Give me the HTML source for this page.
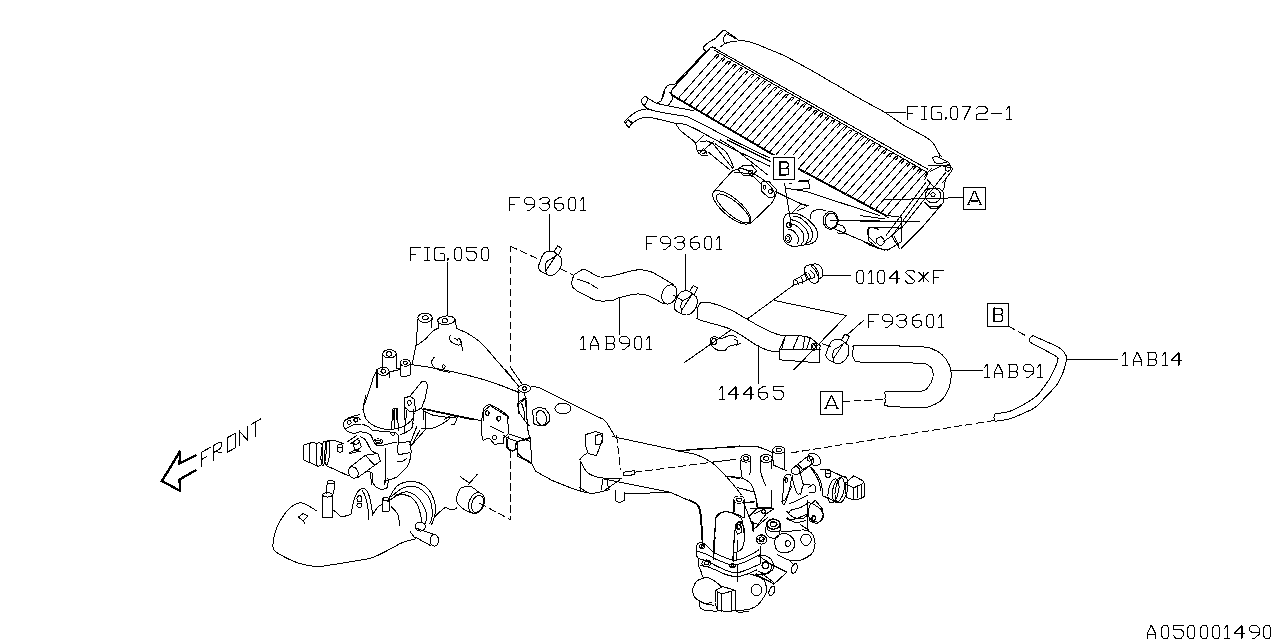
<!DOCTYPE html>
<html><head><meta charset="utf-8"><style>
html,body{margin:0;padding:0;background:#fff;}
svg{display:block;}
path,polyline,line,ellipse,circle,rect,polygon{fill:none;stroke:#000;stroke-width:1;vector-effect:non-scaling-stroke;stroke-linejoin:round;stroke-linecap:round;shape-rendering:crispEdges;}
.t path{stroke-width:1.1;}
.b{stroke-width:1.25;}
.b2{stroke-width:2;}
.arr{stroke-width:2.4;stroke-linejoin:miter;stroke-linecap:butt;}
.d{stroke-dasharray:7 4;}
.f{fill:#000;}
.bold{stroke-width:2;}
.thin{stroke-width:0.8;}
.fin{stroke-width:1;}
.w{fill:#fff;}
</style></head><body>
<svg width="1280" height="640" viewBox="0 0 1280 640">
<rect x="0" y="0" width="1280" height="640" style="fill:#fff;stroke:none"/>
<path d="M712.5,47.0 L927.6,169.1"/>
<path d="M715.0,50.5 L927.6,172.6"/>
<path d="M670.2,93.5 L772,153.5 L801,169.5 L887.7,216.0"/>
<path d="M671.0,95.1 L772.8,155.1 L801.8,171.1 L888.5,217.6"/>
<path d="M715.5,48.0 Q710.5,46.0 708.5,50.0 L672.2,89.5 Q670.2,93.5 673.2,95.0"/>
<path class="fin" d="M679.1,97.3 L697.6,76.4 L716.0,55.5 Q717.2,53.9 719.0,55.3 L716.3,58.3"/>
<path class="fin" d="M684.8,100.7 L703.4,79.7 L721.8,58.8 Q723.0,57.2 724.8,58.6 L722.1,61.6"/>
<path class="fin" d="M690.5,104.1 L708.8,83.0 L727.5,62.0 Q728.7,60.4 730.5,61.8 L727.9,64.8"/>
<path class="fin" d="M696.2,107.4 L714.8,86.4 L733.3,65.3 Q734.5,63.7 736.3,65.1 L733.7,68.1"/>
<path class="fin" d="M701.9,110.8 L720.8,89.7 L739.1,68.6 Q740.3,67.0 742.1,68.4 L739.5,71.4"/>
<path class="fin" d="M707.6,114.1 L726.6,93.0 L744.9,71.9 Q746.1,70.3 747.9,71.7 L745.2,74.7"/>
<path class="fin" d="M713.4,117.5 L731.7,96.3 L750.7,75.2 Q751.9,73.6 753.7,75.0 L751.0,78.0"/>
<path class="fin" d="M719.1,120.8 L737.5,99.6 L756.4,78.4 Q757.6,76.8 759.4,78.2 L756.8,81.2"/>
<path class="fin" d="M724.8,124.2 L743.1,103.0 L762.2,81.7 Q763.4,80.1 765.2,81.5 L762.6,84.5"/>
<path class="fin" d="M730.5,127.6 L749.2,106.3 L768.0,85.0 Q769.2,83.4 771.0,84.8 L768.4,87.8"/>
<path class="fin" d="M736.2,131.0 L754.6,109.6 L773.8,88.3 Q775.0,86.7 776.8,88.1 L774.1,91.1"/>
<path class="fin" d="M741.9,134.3 L760.7,113.0 L779.6,91.6 Q780.8,90.0 782.6,91.4 L779.9,94.4"/>
<path class="fin" d="M747.6,137.7 L766.6,116.3 L785.4,94.9 Q786.6,93.3 788.4,94.7 L785.7,97.7"/>
<path class="fin" d="M753.3,141.1 L772.0,119.6 L791.1,98.1 Q792.3,96.5 794.1,97.9 L791.5,100.9"/>
<path class="fin" d="M759.0,144.4 L778.1,122.9 L796.9,101.4 Q798.1,99.8 799.9,101.2 L797.3,104.2"/>
<path class="fin" d="M764.7,147.8 L783.8,126.2 L802.7,104.7 Q803.9,103.1 805.7,104.5 L803.1,107.5"/>
<path class="fin" d="M770.4,151.1 L789.1,129.6 L808.5,108.0 Q809.7,106.4 811.5,107.8 L808.8,110.8"/>
<path class="fin" d="M776.2,154.4 L795.3,132.8 L814.3,111.3 Q815.5,109.7 817.3,111.1 L814.6,114.1"/>
<path class="fin" d="M782.1,157.6 L800.9,136.1 L820.0,114.5 Q821.2,113.0 823.0,114.3 L820.4,117.4"/>
<path class="fin" d="M787.9,160.8 L806.8,139.3 L825.8,117.8 Q827.0,116.2 828.8,117.6 L826.2,120.6"/>
<path class="fin" d="M793.8,164.0 L812.5,142.6 L831.6,121.1 Q832.8,119.5 834.6,120.9 L832.0,123.9"/>
<path class="fin" d="M799.6,167.3 L818.6,145.9 L837.4,124.4 Q838.6,122.8 840.4,124.2 L837.8,127.2"/>
<path class="fin" d="M805.5,170.4 L824.3,149.1 L843.2,127.7 Q844.4,126.1 846.2,127.5 L843.5,130.5"/>
<path class="fin" d="M811.4,173.6 L829.9,152.3 L849.0,131.0 Q850.2,129.4 852.0,130.8 L849.3,133.8"/>
<path class="fin" d="M817.2,176.8 L836.0,155.5 L854.7,134.2 Q855.9,132.6 857.7,134.0 L855.1,137.0"/>
<path class="fin" d="M823.1,179.9 L842.1,158.7 L860.5,137.5 Q861.7,135.9 863.5,137.3 L860.9,140.3"/>
<path class="fin" d="M829.1,183.1 L847.5,161.9 L866.3,140.8 Q867.5,139.2 869.3,140.6 L866.7,143.6"/>
<path class="fin" d="M834.9,186.3 L853.3,165.2 L872.1,144.1 Q873.3,142.5 875.1,143.9 L872.4,146.9"/>
<path class="fin" d="M840.8,189.4 L859.3,168.4 L877.9,147.4 Q879.1,145.8 880.9,147.2 L878.2,150.2"/>
<path class="fin" d="M846.7,192.6 L865.5,171.6 L883.7,150.7 Q884.9,149.1 886.7,150.5 L884.0,153.5"/>
<path class="fin" d="M852.6,195.7 L871.4,174.8 L889.4,153.9 Q890.6,152.3 892.4,153.7 L889.8,156.7"/>
<path class="fin" d="M858.5,198.9 L877.0,178.0 L895.2,157.2 Q896.4,155.6 898.2,157.0 L895.6,160.0"/>
<path class="fin" d="M864.3,202.1 L883.0,181.3 L901.0,160.5 Q902.2,158.9 904.0,160.3 L901.4,163.3"/>
<path class="fin" d="M870.3,205.2 L888.8,184.5 L906.8,163.8 Q908.0,162.2 909.8,163.6 L907.1,166.6"/>
<path class="fin" d="M876.2,208.3 L894.3,187.7 L912.6,167.1 Q913.8,165.5 915.6,166.9 L912.9,169.9"/>
<path class="fin" d="M882.0,211.5 L899.9,190.9 L918.3,170.3 Q919.5,168.7 921.3,170.1 L918.7,173.1"/>
<path class="fin" d="M888.1,214.5 L906.2,194.1 L924.1,173.6 Q925.3,172.0 927.1,173.4 L924.5,176.4"/>
<!-- r_act.txt -->
<path d="M790.00,213.12 C789.27,213.40 786.71,213.60 785.62,214.75 C784.54,215.90 783.77,217.67 783.50,220.00 C783.23,222.33 784.04,226.25 784.00,228.75 C783.96,231.25 783.17,232.92 783.25,235.00 C783.33,237.08 783.58,239.58 784.50,241.25 C785.42,242.92 787.00,244.12 788.75,245.00 C790.50,245.88 792.81,246.46 795.00,246.50 C797.19,246.54 800.73,245.46 801.88,245.25"/>
<path d="M790.00,213.12 C791.25,213.23 795.00,213.02 797.50,213.75 C800.00,214.48 802.71,216.04 805.00,217.50 C807.29,218.96 809.38,220.62 811.25,222.50 C813.12,224.38 815.17,226.67 816.25,228.75 C817.33,230.83 817.92,232.92 817.75,235.00 C817.58,237.08 816.54,239.75 815.25,241.25 C813.96,242.75 812.23,243.33 810.00,244.00 C807.77,244.67 803.23,245.04 801.88,245.25"/>
<path d="M792.75,216.00 C793.96,216.29 797.75,216.62 800.00,217.75 C802.25,218.88 804.42,220.92 806.25,222.75 C808.08,224.58 809.96,226.71 811.00,228.75 C812.04,230.79 812.62,232.92 812.50,235.00 C812.38,237.08 811.67,239.67 810.25,241.25 C808.83,242.83 805.04,243.96 804.00,244.50"/>
<path d="M791.50,219.75 C792.50,220.04 795.67,220.58 797.50,221.50 C799.33,222.42 800.88,223.62 802.50,225.25 C804.12,226.88 806.25,229.21 807.25,231.25 C808.25,233.29 808.67,235.58 808.50,237.50 C808.33,239.42 806.62,241.88 806.25,242.75"/>
<path d="M790.25,223.50 C791.08,223.79 793.62,224.33 795.25,225.25 C796.88,226.17 798.62,227.54 800.00,229.00 C801.38,230.46 802.88,232.17 803.50,234.00 C804.12,235.83 804.08,238.33 803.75,240.00 C803.42,241.67 801.88,243.33 801.50,244.00"/>
<path d="M787.75,229.00 C788.58,229.25 791.33,229.67 792.75,230.50 C794.17,231.33 795.29,232.58 796.25,234.00 C797.21,235.42 798.33,237.33 798.50,239.00 C798.67,240.67 797.46,243.17 797.25,244.00"/>
<path d="M791.25,238.50 A3.00,3.75 0.0 1,1 785.25,238.50 A3.00,3.75 0.0 1,1 791.25,238.50 Z"/>
<path d="M789.75,238.50 A1.50,1.88 0.0 1,1 786.75,238.50 A1.50,1.88 0.0 1,1 789.75,238.50 Z"/>
<path d="M791.25,225.00 A2.25,3.00 0.0 1,1 786.75,225.00 A2.25,3.00 0.0 1,1 791.25,225.00 Z"/>
<path class="f" d="M790.75,224.50 A0.75,0.75 0.0 1,1 789.25,224.50 A0.75,0.75 0.0 1,1 790.75,224.50 Z"/>
<path d="M792.75,212.50 L801.25,204.00 L809.00,205.75"/>
<path d="M797.50,210.62 L805.00,207.50"/>
<!-- r_bolt.txt -->
<path d="M807.50,265.31 C808.68,264.96 810.94,264.77 812.19,265.08 C813.44,265.39 814.07,266.13 815.00,267.19 C815.94,268.24 817.19,269.92 817.82,271.41 C818.44,272.89 818.68,274.46 818.76,276.10 C818.83,277.74 819.07,280.04 818.29,281.25 C817.51,282.47 815.40,283.36 814.07,283.36 C812.74,283.36 811.72,282.86 810.32,281.25 C808.91,279.65 806.64,275.55 805.63,273.75 C804.61,271.96 804.30,271.57 804.22,270.47 C804.14,269.38 804.61,268.05 805.16,267.19 C805.71,266.33 806.33,265.67 807.50,265.31 Z"/>
<path d="M813.13,264.14 C813.99,263.79 815.79,263.87 816.88,264.14 C817.97,264.42 818.83,264.96 819.69,265.78 C820.55,266.60 821.53,267.89 822.04,269.06 C822.54,270.24 822.66,271.64 822.74,272.82 C822.82,273.99 822.86,275.24 822.51,276.10 C822.15,276.96 821.26,277.58 820.63,277.97 C820.01,278.36 819.22,278.83 818.76,278.44 C818.29,278.05 818.36,276.96 817.82,275.63 C817.27,274.30 816.49,272.03 815.47,270.47 C814.46,268.91 812.11,267.31 811.72,266.25 C811.33,265.20 812.27,264.49 813.13,264.14 Z"/>
<path d="M810.32,270.47 C810.94,271.10 813.36,273.21 814.07,274.22 C814.77,275.24 814.77,275.86 814.54,276.57 C814.30,277.27 813.36,278.05 812.66,278.44 C811.96,278.83 810.71,278.83 810.32,278.91"/>
<path d="M793.44,280.32 L799.06,277.50 L804.69,273.75 L807.03,272.58"/>
<path d="M794.38,285.00 L799.06,283.13 L804.69,281.25 L809.38,278.91"/>
<path d="M795.78,280.32 C796.10,280.55 797.19,280.94 797.66,281.72 C798.13,282.50 798.44,284.46 798.60,285.00"/>
<path d="M800.47,276.57 C800.78,277.03 801.96,278.28 802.35,279.38 C802.74,280.47 802.74,282.50 802.82,283.13"/>
<path d="M804.22,274.22 C804.53,274.69 805.71,276.02 806.10,277.03 C806.49,278.05 806.49,279.77 806.57,280.32"/>
<path d="M807.97,272.82 C808.28,273.28 809.46,274.69 809.85,275.63 C810.24,276.57 810.24,277.97 810.32,278.44"/>
<path d="M793.44,280.32 C793.36,280.63 792.89,281.41 792.97,282.19 C793.05,282.97 793.75,284.54 793.91,285.00"/>
<path d="M822.51,275.39 L850.64,275.39"/>
<!-- r_clamp0.txt -->
<path d="M548.75,251.22 C550.31,251.02 552.19,251.17 553.75,251.85 C555.31,252.53 556.93,254.35 558.12,255.29 C559.32,256.23 560.36,256.28 560.94,257.48 C561.51,258.67 561.61,260.81 561.56,262.48 C561.51,264.14 561.30,265.91 560.62,267.48 C559.95,269.04 558.75,270.60 557.50,271.85 C556.25,273.10 554.69,274.45 553.12,274.98 C551.56,275.50 549.58,275.29 548.12,274.98 C546.67,274.66 545.73,273.83 544.38,273.10 C543.02,272.37 540.99,271.64 540.00,270.60 C539.01,269.56 538.44,268.31 538.44,266.85 C538.44,265.39 539.43,263.52 540.00,261.85 C540.57,260.18 541.15,258.31 541.88,256.85 C542.60,255.39 543.23,254.04 544.38,253.10 C545.52,252.16 547.19,251.43 548.75,251.22 Z"/>
<path d="M556.25,255.29 C555.31,255.96 552.19,258.31 550.62,259.35 C549.06,260.39 547.76,260.39 546.88,261.54 C545.99,262.68 545.47,264.61 545.31,266.23 C545.16,267.84 545.76,269.89 545.94,271.23 C546.11,272.56 546.30,273.73 546.38,274.23"/>
<path d="M545.62,271.23 L556.25,254.97"/>
<path d="M554.06,251.97 L557.50,245.91 L561.75,248.22 L558.62,255.29 Z"/>
<!-- r_clamp1.txt -->
<path d="M684.35,290.93 C685.91,290.72 687.79,290.87 689.35,291.55 C690.91,292.23 692.53,294.05 693.73,294.99 C694.92,295.93 695.96,295.98 696.54,297.18 C697.11,298.37 697.21,300.51 697.16,302.18 C697.11,303.84 696.90,305.61 696.23,307.18 C695.55,308.74 694.35,310.30 693.10,311.55 C691.85,312.80 690.29,314.15 688.73,314.68 C687.16,315.20 685.18,314.99 683.73,314.68 C682.27,314.36 681.33,313.53 679.98,312.80 C678.62,312.07 676.59,311.34 675.60,310.30 C674.61,309.26 674.04,308.01 674.04,306.55 C674.04,305.09 675.03,303.22 675.60,301.55 C676.17,299.88 676.75,298.01 677.48,296.55 C678.20,295.09 678.83,293.74 679.98,292.80 C681.12,291.86 682.79,291.13 684.35,290.93 Z"/>
<path d="M691.85,294.99 C690.91,295.66 687.79,298.01 686.23,299.05 C684.66,300.09 683.36,300.09 682.48,301.24 C681.59,302.38 681.07,304.31 680.91,305.93 C680.76,307.54 681.36,309.59 681.54,310.93 C681.71,312.26 681.90,313.43 681.98,313.93"/>
<path d="M681.23,310.93 L691.85,294.68"/>
<path d="M689.66,291.68 L693.10,285.61 L697.35,287.93 L694.23,294.99 Z"/>
<!-- r_clamp2.txt -->
<path d="M836.15,339.38 C837.71,339.17 839.59,339.32 841.15,340.00 C842.71,340.68 844.33,342.50 845.52,343.44 C846.72,344.38 847.76,344.43 848.34,345.62 C848.91,346.82 849.01,348.96 848.96,350.62 C848.91,352.29 848.70,354.06 848.02,355.62 C847.35,357.19 846.15,358.75 844.90,360.00 C843.65,361.25 842.09,362.60 840.52,363.12 C838.96,363.65 836.98,363.44 835.52,363.12 C834.07,362.81 833.13,361.98 831.77,361.25 C830.42,360.52 828.39,359.79 827.40,358.75 C826.41,357.71 825.84,356.46 825.84,355.00 C825.84,353.54 826.83,351.67 827.40,350.00 C827.97,348.33 828.55,346.46 829.27,345.00 C830.00,343.54 830.63,342.19 831.77,341.25 C832.92,340.31 834.59,339.58 836.15,339.38 Z"/>
<path d="M843.65,343.44 C842.71,344.11 839.59,346.46 838.02,347.50 C836.46,348.54 835.16,348.54 834.27,349.69 C833.39,350.83 832.87,352.76 832.71,354.38 C832.56,355.99 833.16,358.04 833.34,359.38 C833.51,360.71 833.70,361.88 833.77,362.38"/>
<path d="M833.02,359.38 L843.65,343.12"/>
<path d="M841.46,340.12 L844.90,334.06 L849.15,336.38 L846.02,343.44 Z"/>
<!-- r_fix1.txt -->
<path d="M757.34,507.97 L773.75,508.75 L765.94,514.22 L758.12,524.38 L751.09,522.03 L749.53,515.78 Z"/>
<path d="M765.47,511.25 A2.03,1.88 0.0 1,1 761.41,511.25 A2.03,1.88 0.0 1,1 765.47,511.25 Z"/>
<path d="M754.22,491.56 L758.12,507.34 L771.02,507.97 L771.02,490.00"/>
<path d="M744.45,502.89 L754.22,502.11"/>
<path d="M744.84,505.62 L751.09,522.03"/>
<!-- r_fix2.txt -->
<path d="M625.62,493.44 L669.38,492.66"/>
<!-- r_fix3.txt -->
<path d="M372.39,473.15 C372.49,474.74 371.81,480.08 372.99,482.69 C374.18,485.30 377.12,488.00 379.49,488.78 C381.86,489.56 385.79,489.22 387.21,487.36 C388.63,485.50 387.88,479.24 388.02,477.61"/>
<path d="M372.39,473.15 L367.72,471.12"/>
<!-- r_h1.txt -->
<path d="M549.85,230.00 L549.85,251.49"/>
<path class="d" d="M510.66,340.00 L510.66,246.33"/>
<path class="d" d="M510.66,246.33 L539.88,259.91"/>
<path class="d" d="M560.50,268.84 L573.91,275.55"/>
<path d="M573.91,275.03 C575.05,274.26 578.78,271.25 580.78,270.39 C582.79,269.53 582.93,268.82 585.94,269.88 C588.95,270.94 594.53,275.72 598.83,276.75 C603.13,277.78 608.14,276.55 611.72,276.06 C615.30,275.58 616.02,274.86 620.32,273.83 C624.61,272.80 632.63,270.31 637.50,269.88 C642.37,269.45 646.10,270.31 649.54,271.25 C652.97,272.20 654.12,273.31 658.13,275.55 C662.14,277.78 671.02,283.14 673.60,284.66"/>
<path d="M572.19,286.72 C573.05,287.44 575.05,289.59 577.35,291.02 C579.64,292.45 582.79,293.74 585.94,295.31 C589.09,296.89 591.96,299.61 596.25,300.47 C600.55,301.33 607.71,300.99 611.72,300.47 C615.73,299.96 616.02,298.47 620.32,297.38 C624.61,296.29 632.63,294.14 637.50,293.94 C642.37,293.74 645.24,294.51 649.54,296.17 C653.83,297.84 660.99,302.62 663.29,303.91"/>
<path d="M573.91,275.03 C573.56,276.12 572.13,279.62 571.85,281.56 C571.56,283.51 572.13,285.86 572.19,286.72"/>
<path d="M577.35,278.99 L589.38,283.28"/>
<path d="M591.10,284.66 L597.97,288.44"/>
<path d="M676.00,297.16 A7.22,9.97 22.0 1,1 662.61,291.75 A7.22,9.97 22.0 1,1 676.00,297.16 Z"/>
<path d="M685.63,254.06 L685.63,291.02"/>
<path d="M619.46,297.89 L619.46,334.50"/>
<path d="M673.60,295.31 L682.19,300.47"/>
<!-- r_h2.txt -->
<path d="M793.71,285.08 L747.01,319.19"/>
<path d="M731.57,329.54 L684.06,362.84"/>
<path d="M774.42,300.51 L846.50,315.53 L793.71,369.95"/>
<path d="M700.30,302.94 C702.00,302.94 705.38,301.76 710.46,302.94 C715.53,304.13 724.67,307.34 730.76,310.05 C736.85,312.76 741.25,315.97 747.01,319.19 C752.76,322.40 759.53,326.63 765.28,329.34 C771.03,332.05 776.11,334.42 781.52,335.43 C786.94,336.45 795.06,335.43 797.77,335.43"/>
<path d="M697.26,317.16 C697.77,317.66 694.72,318.17 700.30,320.20 C705.89,322.23 721.29,325.11 730.76,329.34 C740.24,333.57 750.73,342.03 757.16,345.58 C763.59,349.14 765.62,349.64 769.34,350.66 C773.06,351.68 777.80,351.51 779.49,351.68"/>
<path d="M700.30,302.94 C699.80,303.96 697.77,306.67 697.26,309.04 C696.75,311.40 697.26,315.80 697.26,317.16"/>
<path d="M779.49,349.64 L785.58,335.43 L798.78,335.43 L809.95,337.46 L820.10,345.58 L819.09,362.84 L779.49,359.80 Z"/>
<path d="M779.49,349.64 L820.10,349.64"/>
<path d="M785.58,335.43 L781.52,349.64"/>
<path d="M798.78,335.43 L792.69,349.64"/>
<path d="M804.87,337.87 L802.84,348.63"/>
<path d="M809.95,338.68 L806.90,348.63"/>
<path d="M816.85,346.60 A2.84,3.65 0.0 1,1 811.17,346.60 A2.84,3.65 0.0 1,1 816.85,346.60 Z"/>
<path d="M815.43,346.60 A1.42,1.83 0.0 1,1 812.59,346.60 A1.42,1.83 0.0 1,1 815.43,346.60 Z"/>
<path d="M710.46,338.48 C711.13,338.14 712.83,336.45 714.52,336.45 C716.21,336.45 717.90,338.65 720.61,338.48 C723.32,338.31 728.05,335.60 730.76,335.43 C733.47,335.26 735.84,337.12 736.85,337.46"/>
<path d="M710.46,338.48 C710.46,339.32 709.44,341.69 710.46,343.55 C711.47,345.41 714.18,348.46 716.55,349.64 C718.92,350.83 722.64,351.17 724.67,350.66 C726.70,350.15 726.02,347.78 728.73,346.60 C731.44,345.41 738.88,344.06 740.91,343.55"/>
<path d="M716.55,341.52 A2.44,3.05 0.0 1,1 711.68,341.52 A2.44,3.05 0.0 1,1 716.55,341.52 Z"/>
<path d="M734.82,339.49 C735.33,339.83 737.53,340.51 737.87,341.52 C738.21,342.54 737.02,344.91 736.85,345.58"/>
<path d="M758.17,345.58 L758.17,383.15"/>
<path d="M846.50,335.43 L863.76,320.20"/>
<path d="M822.13,343.55 L830.25,346.60"/>
<!-- r_h3.txt -->
<path d="M855.84,345.69 C862.10,345.38 880.37,345.72 891.37,345.89 C902.37,346.06 915.06,346.23 921.83,346.70 C928.60,347.17 928.60,347.38 931.98,348.73 C935.36,350.08 939.26,352.12 942.13,354.82 C945.01,357.53 947.72,361.59 949.24,364.97 C950.76,368.36 951.27,371.40 951.27,375.13 C951.27,378.85 950.76,383.25 949.24,387.31 C947.72,391.37 945.01,396.45 942.13,399.49 C939.26,402.54 935.36,404.23 931.98,405.58 C928.60,406.94 929.27,407.55 921.83,407.61 C914.38,407.68 893.40,407.01 887.31,405.99 C881.22,404.97 885.62,403.28 885.28,401.52 C884.94,399.76 884.87,397.12 885.28,395.43 C885.69,393.74 881.96,392.05 887.72,391.37 C893.47,390.69 913.10,392.05 919.80,391.37 C926.50,390.69 925.72,389.68 927.92,387.31 C930.12,384.94 932.32,380.20 932.99,377.16 C933.67,374.11 932.83,371.07 931.98,369.04 C931.13,367.01 929.61,365.92 927.92,364.97 C926.23,364.03 927.92,363.76 921.83,363.35 C915.74,362.94 901.86,362.77 891.37,362.54 C880.88,362.30 865.14,362.54 858.88,361.93 C852.62,361.32 854.89,360.41 853.81,358.88 C852.72,357.36 852.39,354.65 852.39,352.79 C852.39,350.93 853.23,348.90 853.81,347.72 C854.38,346.53 849.58,345.99 855.84,345.69 Z"/>
<path d="M951.27,370.05 L982.74,370.05"/>
<path class="d" d="M842.64,401.52 L884.26,399.49"/>
<path class="d" d="M1008.73,326.40 L1025.38,335.53"/>
<!-- r_h4.txt -->
<path d="M1033.10,335.69 C1037.50,337.72 1054.08,344.65 1059.49,347.87 C1064.91,351.08 1064.40,353.11 1065.58,354.97 C1066.77,356.84 1066.94,356.33 1066.60,359.04 C1066.26,361.74 1064.06,369.19 1063.55,371.22"/>
<path d="M1031.07,342.79 C1035.13,344.99 1051.03,353.11 1055.43,355.99 C1059.83,358.87 1057.46,358.19 1057.46,360.05 C1057.46,361.91 1056.79,363.94 1055.43,367.16 C1054.08,370.37 1050.36,377.31 1049.34,379.34"/>
<path d="M1033.10,335.69 C1032.59,336.02 1030.66,336.87 1030.05,337.72 C1029.44,338.56 1029.27,339.92 1029.44,340.76 C1029.61,341.61 1030.80,342.45 1031.07,342.79"/>
<path d="M1066.60,359.44 L1117.36,359.44"/>
<!-- r_h5.txt -->
<path d="M1048.75,380.00 C1046.88,382.50 1041.46,391.04 1037.50,395.00 C1033.54,398.96 1029.58,401.04 1025.00,403.75 C1020.42,406.46 1015.00,409.58 1010.00,411.25 C1005.00,412.92 997.50,413.33 995.00,413.75"/>
<path d="M1063.62,371.25 C1062.60,373.33 1060.19,379.79 1057.50,383.75 C1054.81,387.71 1051.25,391.04 1047.50,395.00 C1043.75,398.96 1038.75,404.58 1035.00,407.50 C1031.25,410.42 1029.17,410.62 1025.00,412.50 C1020.83,414.38 1015.00,417.29 1010.00,418.75 C1005.00,420.21 997.50,420.83 995.00,421.25"/>
<path d="M995.00,413.75 C994.83,414.38 994.00,416.25 994.00,417.50 C994.00,418.75 994.83,420.62 995.00,421.25"/>
<!-- r_ic_a.txt -->
<path d="M738.12,40.25 L736.88,38.50 L726.88,31.88 L724.75,30.00 L723.12,30.50 L715.00,38.75 L712.50,40.00 L707.50,43.12 L704.00,46.50 L703.50,49.38 L706.25,51.00"/>
<path d="M723.12,38.75 L726.25,33.50 L736.00,38.75"/>
<path d="M723.12,38.75 C723.27,39.33 723.44,41.42 724.00,42.25 C724.56,43.08 726.08,43.50 726.50,43.75"/>
<path d="M720.62,46.88 C721.35,46.31 723.44,44.31 725.00,43.50 C726.56,42.69 728.02,42.42 730.00,42.00 C731.98,41.58 735.73,41.17 736.88,41.00"/>
<path d="M706.25,51.00 L676.50,82.12"/>
<path d="M707.88,50.00 L678.00,82.50"/>
<path d="M676.88,82.88 C676.35,83.12 675.10,84.02 673.75,84.38 C672.40,84.73 670.10,84.38 668.75,85.00 C667.40,85.62 666.56,86.67 665.62,88.12 C664.69,89.58 663.79,91.77 663.12,93.75 C662.46,95.73 661.88,98.96 661.62,100.00"/>
<!-- r_ic_hood.txt -->
<path d="M738.20,40.30 C739.33,40.42 742.20,40.47 745.00,41.00 C747.80,41.53 751.25,42.21 755.00,43.50 C758.75,44.79 763.33,47.04 767.50,48.75 C771.67,50.46 775.83,51.88 780.00,53.75 C784.17,55.62 788.33,57.81 792.50,60.00 C796.67,62.19 800.83,64.61 805.00,66.90 C809.17,69.19 813.33,71.36 817.50,73.75 C821.67,76.14 826.25,79.06 830.00,81.25 C833.75,83.44 834.79,83.86 840.00,86.90 C845.21,89.94 853.75,95.23 861.25,99.50 C868.75,103.77 878.12,108.35 885.00,112.50 C891.88,116.65 897.08,121.07 902.50,124.40 C907.92,127.73 912.92,129.90 917.50,132.50 C922.08,135.10 927.08,137.75 930.00,140.00 C932.92,142.25 933.54,143.71 935.00,146.00 C936.46,148.29 937.92,151.92 938.75,153.75 C939.58,155.58 939.79,156.46 940.00,157.00"/>
<path d="M884.40,112.50 L905.60,112.50"/>
<!-- r_ic_pipes.txt -->
<path d="M646.25,97.25 C647.08,97.75 649.38,99.21 651.25,100.25 C653.12,101.29 654.58,102.56 657.50,103.50 C660.42,104.44 665.00,105.10 668.75,105.88 C672.50,106.65 675.94,107.33 680.00,108.12 C684.06,108.92 690.94,110.21 693.12,110.62"/>
<path d="M642.75,104.00 C643.33,104.58 644.83,106.50 646.25,107.50 C647.67,108.50 648.54,109.17 651.25,110.00 C653.96,110.83 658.54,111.71 662.50,112.50 C666.46,113.29 670.94,114.06 675.00,114.75 C679.06,115.44 683.12,115.44 686.88,116.62 C690.62,117.81 693.65,119.96 697.50,121.88 C701.35,123.79 703.75,124.90 710.00,128.12 C716.25,131.35 725.00,136.25 735.00,141.25 C745.00,146.25 764.17,155.31 770.00,158.12"/>
<path d="M627.50,118.50 C628.33,117.81 630.62,115.69 632.50,114.38 C634.38,113.06 636.46,111.52 638.75,110.62 C641.04,109.73 644.17,109.15 646.25,109.00 C648.33,108.85 650.42,109.62 651.25,109.75"/>
<path d="M630.00,126.25 C630.83,125.42 633.12,122.60 635.00,121.25 C636.88,119.90 639.17,118.79 641.25,118.12 C643.33,117.46 645.21,117.19 647.50,117.25 C649.79,117.31 651.88,117.88 655.00,118.50 C658.12,119.12 662.71,120.17 666.25,121.00 C669.79,121.83 673.12,122.94 676.25,123.50 C679.38,124.06 681.46,123.29 685.00,124.38 C688.54,125.46 693.33,127.92 697.50,130.00 C701.67,132.08 703.75,133.54 710.00,136.88 C716.25,140.21 725.00,145.10 735.00,150.00 C745.00,154.90 764.17,163.54 770.00,166.25"/>
<path d="M624.12,122.25 L627.50,118.50 L632.25,122.75 L629.00,127.50 Z"/>
<path d="M625.62,122.75 L628.12,120.00 L630.62,122.75"/>
<path d="M641.88,99.38 C642.35,98.44 643.44,97.15 644.38,96.88 C645.31,96.60 647.15,96.85 647.50,97.75 C647.85,98.65 647.08,101.04 646.50,102.25 C645.92,103.46 644.83,104.96 644.00,105.00 C643.17,105.04 641.85,103.44 641.50,102.50 C641.15,101.56 641.40,100.31 641.88,99.38 Z"/>
<path d="M657.50,102.50 C658.12,102.19 660.21,101.88 661.25,100.62 C662.29,99.38 663.12,96.77 663.75,95.00 C664.38,93.23 664.79,90.83 665.00,90.00"/>
<path d="M668.12,105.62 C668.75,104.69 671.15,101.67 671.88,100.00 C672.60,98.33 672.81,96.88 672.50,95.62 C672.19,94.38 670.42,93.02 670.00,92.50"/>
<path d="M676.25,124.38 C676.88,125.31 678.12,128.02 680.00,130.00 C681.88,131.98 685.00,134.17 687.50,136.25 C690.00,138.33 693.33,140.00 695.00,142.50 C696.67,145.00 696.46,149.17 697.50,151.25 C698.54,153.33 699.58,154.38 701.25,155.00 C702.92,155.62 706.46,155.00 707.50,155.00"/>
<path d="M696.25,142.50 L703.12,135.62"/>
<path d="M705.00,148.75 L713.75,141.25"/>
<path d="M697.50,150.00 L705.00,150.00 L706.25,153.75"/>
<path d="M708.75,152.50 L730.00,170.00"/>
<path d="M715.00,143.75 C716.88,145.21 723.12,148.54 726.25,152.50 C729.38,156.46 732.50,165.00 733.75,167.50"/>
<!-- r_ic_right.txt -->
<path d="M884.61,199.71 L963.36,197.58"/>
<path d="M860.00,221.37 L919.06,221.37"/>
<path d="M940.89,195.61 A7.88,6.89 0.0 1,1 925.14,195.61 A7.88,6.89 0.0 1,1 940.89,195.61 Z"/>
<path d="M935.14,194.63 A2.13,1.80 0.0 1,1 930.88,194.63 A2.13,1.80 0.0 1,1 935.14,194.63 Z"/>
<path d="M924.81,191.02 L928.91,188.06 L938.75,188.06 L943.68,192.66 L943.68,202.50 L938.75,206.60 L928.91,206.60 L924.81,202.50"/>
<path d="M928.91,206.60 L930.55,208.24 L937.11,208.24 L940.39,205.78"/>
<path d="M932.19,157.38 L937.11,156.56 L942.03,159.02 L948.60,162.31 L949.91,165.09"/>
<path d="M932.19,157.38 L935.14,162.80 L939.57,163.95 L946.14,162.31"/>
<path d="M937.11,150.00 C937.39,150.55 938.07,152.24 938.75,153.28 C939.44,154.32 940.80,155.74 941.21,156.23"/>
<path d="M949.91,165.09 L952.70,169.36 L945.32,179.53 L942.03,182.81"/>
<path d="M928.09,165.59 L949.91,165.09"/>
<path d="M930.55,171.33 L942.03,165.59 L951.06,168.05"/>
<path d="M950.57,168.62 A2.63,3.28 20.0 1,1 945.64,166.82 A2.63,3.28 20.0 1,1 950.57,168.62 Z"/>
<path d="M945.32,179.53 L944.00,188.56 L942.03,191.02"/>
<path d="M927.27,179.53 L932.19,185.27 L937.11,188.56"/>
<path d="M924.81,179.53 L928.09,172.15 L932.19,168.05"/>
<path d="M925.63,182.81 L886.25,235.32"/>
<path d="M930.55,182.81 L891.17,236.96"/>
<path d="M945.32,172.97 L901.02,228.75"/>
<path d="M942.03,204.14 L922.35,227.11 L901.02,248.44"/>
<path d="M887.89,215.63 L901.02,217.27 L901.02,227.11 L892.81,235.32 L882.97,241.88"/>
<path d="M868.20,227.11 L891.17,227.11 L901.02,228.75 L901.02,241.88 L887.89,250.08 L878.05,248.44 L868.20,240.24 Z"/>
<path d="M876.41,238.60 C877.23,238.32 879.96,236.41 881.33,236.96 C882.70,237.50 884.61,240.51 884.61,241.88 C884.61,243.25 882.56,244.89 881.33,245.16 C880.10,245.43 878.05,244.61 877.23,243.52 C876.41,242.43 876.54,239.42 876.41,238.60"/>
<path d="M891.17,235.32 L899.38,248.44"/>
<path d="M894.45,236.96 L898.56,245.16"/>
<path d="M860.00,215.63 L873.13,217.27 L884.61,218.91"/>
<path d="M860.00,239.42 L869.84,245.16 L884.61,250.08"/>
<!-- r_ic_tb.txt -->
<path d="M749.98,222.64 A23.72,8.94 40.0 1,1 713.63,192.14 A23.72,8.94 40.0 1,1 749.98,222.64 Z"/>
<path d="M749.07,221.90 A20.97,6.88 40.0 1,1 716.94,194.94 A20.97,6.88 40.0 1,1 749.07,221.90 Z"/>
<path d="M713.75,191.57 L732.66,170.60"/>
<path d="M750.20,223.89 L770.83,203.95"/>
<path d="M732.66,170.60 C734.38,170.31 739.25,168.25 742.98,168.88 C746.70,169.51 751.00,172.03 755.01,174.38 C759.02,176.73 763.89,180.11 767.04,182.98 C770.20,185.84 772.78,188.85 773.92,191.57 C775.07,194.29 774.44,197.25 773.92,199.31 C773.41,201.37 771.34,203.18 770.83,203.95"/>
<path d="M734.38,172.66 C736.96,172.95 745.27,172.38 749.85,174.38 C754.44,176.39 759.88,182.98 761.89,184.70"/>
<path d="M742.98,165.79 L751.57,164.93 L756.73,170.94 L751.57,176.10 L742.98,175.24 L737.82,169.22 L742.98,165.79"/>
<path d="M752.78,171.80 A2.06,1.72 0.0 1,1 748.65,171.80 A2.06,1.72 0.0 1,1 752.78,171.80 Z"/>
<path d="M761.03,182.12 L768.76,181.26 L776.50,189.85 L775.64,196.73 L768.76,197.59 L761.89,191.57 L761.03,182.12"/>
<path d="M772.20,191.57 A1.72,2.41 0.0 1,1 768.76,191.57 A1.72,2.41 0.0 1,1 772.20,191.57 Z"/>
<path d="M765.84,187.28 A1.38,1.72 0.0 1,1 763.09,187.28 A1.38,1.72 0.0 1,1 765.84,187.28 Z"/>
<path d="M700.00,141.72 L706.88,140.86 L712.89,143.44 L732.66,168.37"/>
<path d="M700.00,152.89 L703.44,148.60 L706.88,152.03 L702.58,153.75"/>
<path d="M720.63,140.00 L734.38,148.60 L767.04,174.38"/>
<path d="M727.51,140.00 L772.20,162.35"/>
<path d="M785.95,188.13 L806.58,191.57 L879.99,215.64"/>
<path d="M775.64,191.57 L789.39,198.45 L806.58,206.19"/>
<path d="M789.39,183.84 L796.27,181.26 L808.30,181.26 L810.02,188.13 L796.27,189.85"/>
<path d="M796.27,181.26 L810.02,179.88"/>
<path d="M783.89,179.54 L791.11,224.24"/>
<path d="M810.02,219.08 C810.31,217.93 810.31,213.78 811.74,212.20 C813.17,210.63 816.33,209.91 818.62,209.62 C820.91,209.34 824.35,210.34 825.49,210.48"/>
<path d="M838.22,220.45 A7.56,8.94 0.0 1,1 823.09,220.45 A7.56,8.94 0.0 1,1 838.22,220.45 Z"/>
<path d="M837.18,220.80 A6.02,7.22 0.0 1,1 825.15,220.80 A6.02,7.22 0.0 1,1 837.18,220.80 Z"/>
<path d="M830.65,220.80 L879.99,220.80"/>
<path d="M837.53,224.24 C838.39,224.52 841.40,224.95 842.69,225.95 C843.97,226.96 845.26,228.96 845.26,230.25 C845.26,231.54 843.97,233.26 842.69,233.69 C841.40,234.12 838.39,232.97 837.53,232.83"/>
<path d="M835.81,229.39 L879.99,248.30"/>
<path d="M867.61,229.39 C868.33,229.11 870.05,227.67 871.91,227.67 C873.77,227.67 877.64,229.11 878.79,229.39"/>
<path d="M867.61,229.39 C867.76,230.54 867.18,233.98 868.47,236.27 C869.76,238.56 874.20,242.00 875.35,243.15"/>
<!-- r_leaders.txt -->
<path d="M447.50,262.50 L447.50,300.00"/>
<path d="M549.80,214.00 L549.80,231.00"/>
<!-- r_long.txt -->
<path class="d" d="M994.00,420.50 L790.00,453.00"/>
<!-- r_m1.txt -->
<path d="M447.51,300.00 L447.51,315.94"/>
<path class="d" d="M510.33,300.00 L510.33,367.50"/>
<path d="M432.13,317.81 A7.13,4.50 0.0 1,1 417.88,317.81 A7.13,4.50 0.0 1,1 432.13,317.81 Z"/>
<path d="M428.20,317.81 A2.81,2.06 0.0 1,1 422.57,317.81 A2.81,2.06 0.0 1,1 428.20,317.81 Z"/>
<path d="M418.07,318.38 L416.01,345.00"/>
<path d="M432.13,318.75 L431.01,328.13"/>
<path d="M454.79,319.50 A8.63,4.13 -5.0 1,1 437.60,321.00 A8.63,4.13 -5.0 1,1 454.79,319.50 Z"/>
<path d="M447.70,320.63 A2.81,2.06 0.0 1,1 442.07,320.63 A2.81,2.06 0.0 1,1 447.70,320.63 Z"/>
<path d="M438.13,321.56 L438.70,328.13"/>
<path d="M455.01,318.75 L456.51,328.50"/>
<path d="M456.51,328.50 C458.45,329.38 464.01,331.31 468.14,333.75 C472.26,336.19 476.57,338.75 481.26,343.13 C485.95,347.50 491.89,355.00 496.26,360.00 C500.64,365.00 503.70,368.69 507.51,373.13 C511.33,377.57 517.20,384.38 519.14,386.63"/>
<path d="M411.51,364.69 C414.70,365.16 422.76,366.10 430.63,367.50 C438.51,368.91 449.38,370.94 458.76,373.13 C468.14,375.32 476.82,377.44 486.89,380.63 C496.95,383.82 513.76,390.32 519.14,392.26"/>
<path d="M416.01,345.00 C415.63,346.88 414.45,352.97 413.76,356.25 C413.07,359.53 412.20,363.29 411.88,364.69"/>
<path d="M438.13,328.13 C437.20,328.69 434.70,329.63 432.51,331.50 C430.32,333.38 427.76,336.97 425.01,339.38 C422.26,341.78 417.51,344.85 416.01,345.94"/>
<path d="M396.13,353.82 A6.75,4.13 0.0 1,1 382.63,353.82 A6.75,4.13 0.0 1,1 396.13,353.82 Z"/>
<path d="M391.63,354.00 A2.63,2.25 0.0 1,1 386.38,354.00 A2.63,2.25 0.0 1,1 391.63,354.00 Z"/>
<path d="M382.63,354.38 L382.63,369.75"/>
<path d="M396.13,354.38 L396.13,368.44"/>
<path d="M410.20,362.82 A4.88,3.38 0.0 1,1 400.44,362.82 A4.88,3.38 0.0 1,1 410.20,362.82 Z"/>
<path d="M407.19,362.82 A1.88,1.50 0.0 1,1 403.44,362.82 A1.88,1.50 0.0 1,1 407.19,362.82 Z"/>
<path d="M400.44,363.19 L400.44,375.94 L405.32,376.50 L410.01,375.00 L410.01,363.19"/>
<path d="M396.13,368.44 L400.44,369.00"/>
<path d="M389.19,371.25 A6.00,4.13 0.0 1,1 377.19,371.25 A6.00,4.13 0.0 1,1 389.19,371.25 Z"/>
<path d="M385.44,371.25 A2.25,1.88 0.0 1,1 380.94,371.25 A2.25,1.88 0.0 1,1 385.44,371.25 Z"/>
<path d="M389.38,372.00 L389.38,377.25"/>
<path d="M389.38,372.00 L400.44,369.38"/>
<path d="M377.19,369.75 C376.57,370.94 374.47,374.29 373.44,376.88 C372.41,379.47 372.10,381.88 371.01,385.32 C369.91,388.76 368.04,394.22 366.88,397.51 C365.72,400.79 364.75,402.91 364.07,405.01 C363.38,407.10 362.97,409.23 362.75,410.07"/>
<path class="bold" d="M376.63,370.32 L377.01,387.19"/>
<path d="M450.32,335.63 C450.17,336.25 448.92,338.13 449.38,339.38 C449.85,340.63 451.57,342.19 453.14,343.13 C454.70,344.07 457.35,345.16 458.76,345.00 C460.17,344.85 461.57,343.28 461.57,342.19 C461.57,341.10 459.23,339.06 458.76,338.44"/>
<path d="M459.70,338.44 C460.01,339.53 461.10,342.97 461.57,345.00 C462.04,347.03 462.35,349.69 462.51,350.63"/>
<path d="M455.01,338.44 L457.82,340.32"/>
<path d="M434.38,357.19 C433.92,357.97 431.57,360.16 431.57,361.88 C431.57,363.60 432.98,366.10 434.38,367.50 C435.79,368.91 437.51,369.54 440.01,370.32 C442.51,371.10 447.82,371.88 449.38,372.19"/>
<path d="M445.07,366.57 A1.31,1.69 0.0 1,1 442.45,366.57 A1.31,1.69 0.0 1,1 445.07,366.57 Z"/>
<path d="M530.77,388.51 A6.38,3.75 0.0 1,1 518.01,388.51 A6.38,3.75 0.0 1,1 530.77,388.51 Z"/>
<path d="M526.64,388.51 A2.25,1.69 0.0 1,1 522.14,388.51 A2.25,1.69 0.0 1,1 526.64,388.51 Z"/>
<path d="M518.01,389.07 L518.39,412.51"/>
<path d="M505.64,369.75 L517.83,385.32"/>
<path d="M511.26,368.44 L522.14,384.01"/>
<path d="M519.70,401.26 L524.39,398.44 L526.64,401.26 L526.64,420.01"/>
<path d="M521.58,403.13 C522.05,404.69 523.92,409.69 524.39,412.51 C524.86,415.32 524.39,418.76 524.39,420.01"/>
<path d="M404.01,398.44 L410.01,396.01 L414.70,399.57 L415.26,411.38 L410.01,411.94 L404.01,406.51 Z"/>
<path d="M410.01,396.01 L421.63,381.94 L425.95,381.94 L427.63,385.51 L425.20,398.44 L421.63,407.82 L415.26,411.38"/>
<path d="M411.13,402.76 A1.69,2.44 0.0 1,1 407.76,402.76 A1.69,2.44 0.0 1,1 411.13,402.76 Z"/>
<path d="M404.38,397.51 L404.38,420.01"/>
<path d="M413.76,411.57 L413.76,420.01"/>
<path d="M421.26,408.76 L473.76,420.01"/>
<path d="M423.13,409.69 L423.13,420.01"/>
<path d="M483.14,410.63 C483.45,410.01 483.76,407.82 485.01,406.88 C486.26,405.94 487.51,404.07 490.64,405.01 C493.76,405.94 500.79,410.48 503.76,412.51 C506.73,414.54 507.83,415.94 508.45,417.19 C509.08,418.44 507.67,419.54 507.51,420.01"/>
<path d="M488.76,412.88 A1.50,2.25 0.0 1,1 485.76,412.88 A1.50,2.25 0.0 1,1 488.76,412.88 Z"/>
<path d="M500.95,418.13 A1.88,1.88 0.0 1,1 497.20,418.13 A1.88,1.88 0.0 1,1 500.95,418.13 Z"/>
<path d="M483.14,410.63 L483.51,420.01"/>
<path d="M394.07,408.76 L395.01,407.82 L396.13,408.76 L396.13,420.01"/>
<path d="M393.51,410.63 L393.51,420.01"/>
<path d="M345.88,420.01 C346.57,419.69 348.07,418.60 350.00,418.13 C351.94,417.66 355.79,416.88 357.50,417.19 C359.22,417.51 359.85,419.54 360.32,420.01"/>
<path d="M357.88,420.01 A2.25,1.50 0.0 1,1 353.38,420.01 A2.25,1.50 0.0 1,1 357.88,420.01 Z"/>
<path d="M443.76,420.01 C444.70,419.38 447.82,417.04 449.38,416.26 C450.95,415.48 452.04,415.01 453.14,415.32 C454.23,415.63 455.48,417.66 455.95,418.13"/>
<!-- r_m2.txt -->
<path class="d" d="M479.39,503.13 L509.39,519.07"/>
<path class="d" d="M510.33,450.63 L510.33,520.01"/>
<path d="M483.14,411.63 L490.26,405.63 L507.51,416.50 L508.64,433.75 L503.76,437.50 L503.76,443.50 L494.39,444.25 L489.14,437.88 L483.14,440.32 L481.26,433.75 L481.26,422.50 Z"/>
<path d="M489.14,413.13 A1.88,2.25 0.0 1,1 485.39,413.13 A1.88,2.25 0.0 1,1 489.14,413.13 Z"/>
<path d="M500.39,418.75 A1.88,2.25 0.0 1,1 496.64,418.75 A1.88,2.25 0.0 1,1 500.39,418.75 Z"/>
<path d="M496.26,437.50 A1.88,2.25 0.0 1,1 492.51,437.50 A1.88,2.25 0.0 1,1 496.26,437.50 Z"/>
<path d="M490.64,426.25 L503.76,432.81"/>
<path d="M423.13,408.44 L481.26,420.63"/>
<path d="M508.64,433.75 L530.02,441.25"/>
<path d="M516.89,442.19 C517.20,444.22 516.58,451.10 518.76,454.38 C520.95,457.66 528.14,460.63 530.02,461.88"/>
<path d="M508.45,436.56 C508.29,437.97 507.20,442.66 507.51,445.00 C507.83,447.35 509.08,449.85 510.33,450.63 C511.58,451.41 513.92,451.10 515.01,449.69 C516.11,448.28 514.39,444.22 516.89,442.19 C519.39,440.16 527.83,438.28 530.02,437.50"/>
<path d="M518.76,400.00 C518.61,400.94 517.67,403.44 517.83,405.63 C517.98,407.81 518.30,410.31 519.70,413.13 C521.11,415.94 524.55,420.31 526.26,422.50 C527.98,424.69 529.39,425.63 530.02,426.25"/>
<path d="M424.07,411.25 C425.48,411.88 429.23,414.06 432.51,415.00 C435.79,415.94 440.32,416.41 443.76,416.88 C447.20,417.34 451.57,417.66 453.14,417.81"/>
<path d="M453.14,417.81 L457.82,416.50 L454.64,424.00 L451.26,424.38"/>
<path d="M421.26,428.13 C423.13,428.13 428.76,429.00 432.51,428.13 C436.26,427.25 440.95,424.44 443.76,422.88 C446.57,421.31 448.45,419.44 449.38,418.75"/>
<path d="M425.01,411.25 L425.01,430.00 L410.01,446.88"/>
<!-- r_m2b.txt -->
<path d="M366.10,395.00 C365.75,396.41 364.42,400.74 363.99,403.44 C363.57,406.13 363.22,408.60 363.57,411.17 C363.92,413.75 364.74,416.68 366.10,418.91 C367.46,421.14 369.39,423.01 371.73,424.54 C374.07,426.06 377.36,427.23 380.17,428.05 C382.98,428.87 386.03,429.34 388.61,429.46 C391.19,429.58 393.30,429.22 395.64,428.76 C397.98,428.29 400.56,427.58 402.67,426.65 C404.78,425.71 406.66,424.42 408.30,423.13 C409.94,421.84 411.53,420.55 412.52,418.91 C413.50,417.27 413.92,414.22 414.21,413.28"/>
<path d="M359.07,414.69 C358.13,414.92 355.32,415.51 353.45,416.10 C351.57,416.68 349.34,417.32 347.82,418.21 C346.30,419.10 345.01,420.27 344.30,421.44 C343.60,422.61 343.44,423.90 343.60,425.24 C343.76,426.58 344.35,428.29 345.29,429.46 C346.23,430.63 347.63,431.64 349.23,432.27 C350.82,432.90 353.09,433.33 354.85,433.26 C356.61,433.19 358.95,432.08 359.77,431.85"/>
<path d="M351.20,422.43 A1.97,1.83 0.0 1,1 347.26,422.43 A1.97,1.83 0.0 1,1 351.20,422.43 Z"/>
<path d="M357.81,420.46 A1.83,1.69 0.0 1,1 354.15,420.46 A1.83,1.69 0.0 1,1 357.81,420.46 Z"/>
<path d="M345.29,429.04 L353.45,424.82 L361.88,423.97 L368.92,426.79 L373.14,430.86 L378.76,431.01 L387.20,431.85 L395.64,432.41 L398.45,435.23"/>
<path d="M359.77,431.85 C360.60,431.94 362.94,431.94 364.70,432.41 C366.46,432.88 368.92,433.40 370.32,434.66 C371.73,435.93 372.39,438.53 373.14,440.01 C373.89,441.48 373.89,442.54 374.82,443.52 C375.76,444.51 376.93,445.75 378.76,445.91 C380.59,446.08 383.68,444.98 385.79,444.51 C387.90,444.04 389.55,443.38 391.42,443.10 C393.30,442.82 396.11,442.87 397.05,442.82"/>
<path d="M382.28,441.41 A4.22,2.53 0.0 1,1 373.84,441.41 A4.22,2.53 0.0 1,1 382.28,441.41 Z"/>
<path d="M380.45,441.41 A2.39,1.27 0.0 1,1 375.67,441.41 A2.39,1.27 0.0 1,1 380.45,441.41 Z"/>
<path d="M394.94,433.82 A2.11,1.41 0.0 1,1 390.72,433.82 A2.11,1.41 0.0 1,1 394.94,433.82 Z"/>
<path d="M398.45,435.23 L398.73,442.82 L397.05,448.45"/>
<path d="M393.11,407.94 L391.42,428.76"/>
<path d="M397.05,407.94 L398.45,430.16"/>
<path d="M394.94,407.94 L394.23,428.76"/>
<path d="M406.89,410.47 L404.36,431.85"/>
<path d="M413.92,409.06 L412.52,427.35"/>
<path d="M413.22,423.13 C412.87,424.07 412.17,427.30 411.11,428.76 C410.06,430.21 408.58,430.86 406.89,431.85 C405.20,432.83 401.97,434.19 400.98,434.66"/>
<path d="M385.79,448.45 L385.79,482.20"/>
<path d="M397.05,447.74 L398.45,454.77"/>
<path d="M409.70,441.41 C409.94,443.05 411.11,447.98 411.11,451.26 C411.11,454.54 410.41,458.48 409.70,461.10 C409.00,463.73 408.30,465.09 406.89,467.01 C405.49,468.93 402.91,471.00 401.27,472.64 C399.62,474.28 398.92,475.68 397.05,476.86 C395.17,478.03 391.84,478.97 390.01,479.67 C388.19,480.37 386.73,480.84 386.08,481.08"/>
<path d="M398.45,443.10 L408.58,441.69"/>
<path d="M417.02,425.94 L409.70,444.51"/>
<path d="M419.83,430.16 L411.39,445.91"/>
<path d="M398.45,454.77 L409.70,452.67"/>
<path d="M397.05,461.10 C397.98,461.10 401.03,461.57 402.67,461.10 C404.31,460.64 406.19,458.76 406.89,458.29"/>
<path d="M349.23,452.67 L356.26,449.85 L360.76,451.96"/>
<path d="M347.82,441.41 L356.26,435.79"/>
<path d="M350.91,443.52 L359.07,437.90"/>
<path d="M370.32,473.76 L371.73,485.01"/>
<path d="M385.09,479.39 L384.39,485.01"/>
<!-- r_m2c.txt -->
<path d="M303.28,445.31 L309.53,443.28 L309.53,462.50 L303.75,460.00 Z"/>
<path d="M309.53,443.28 L313.44,442.19 L316.25,443.44 L319.69,442.50 L322.03,444.38 L322.03,464.38 L318.12,466.25 L309.53,462.50 Z"/>
<path d="M316.25,443.44 L316.25,465.16"/>
<path d="M326.09,453.61 A2.50,12.19 4.0 1,1 321.10,453.26 A2.50,12.19 4.0 1,1 326.09,453.61 Z"/>
<path d="M329.68,452.83 A2.50,12.19 4.0 1,1 324.69,452.48 A2.50,12.19 4.0 1,1 329.68,452.83 Z"/>
<path d="M327.19,440.62 C328.02,440.55 330.31,439.97 332.19,440.16 C334.06,440.34 336.48,441.07 338.44,441.72 C340.39,442.37 342.99,443.67 343.91,444.06"/>
<path d="M326.25,465.62 L348.12,475.62"/>
<path d="M342.66,445.94 A2.66,1.56 0.0 1,1 337.34,445.94 A2.66,1.56 0.0 1,1 342.66,445.94 Z"/>
<path d="M337.34,446.25 L337.34,451.25"/>
<path d="M342.66,446.25 L342.66,451.25"/>
<path d="M337.34,451.25 C337.79,451.43 339.11,452.34 340.00,452.34 C340.89,452.34 342.21,451.43 342.66,451.25"/>
<path d="M358.84,440.78 A2.81,2.03 -30.0 1,1 353.97,443.59 A2.81,2.03 -30.0 1,1 358.84,440.78 Z"/>
<path d="M352.81,443.75 L354.84,449.69"/>
<path d="M359.22,440.62 L361.25,446.88"/>
<path d="M354.84,449.69 C355.44,449.58 357.37,449.53 358.44,449.06 C359.51,448.59 360.78,447.24 361.25,446.88"/>
<path d="M357.34,470.16 A4.69,5.62 -30.0 1,1 349.22,474.84 A4.69,5.62 -30.0 1,1 357.34,470.16 Z"/>
<path d="M349.38,467.81 L365.31,455.31"/>
<path d="M357.50,477.81 L374.69,465.31"/>
<path d="M365.31,455.31 L377.81,453.44 L380.31,461.25 L374.69,465.31 Z"/>
<path d="M349.38,453.75 L358.75,451.25"/>
<path d="M360.31,436.56 C361.15,437.08 363.44,437.34 365.31,439.69 C367.19,442.03 369.48,448.33 371.56,450.62 C373.65,452.92 376.77,452.97 377.81,453.44"/>
<!-- r_m3.txt -->
<path d="M316.25,510.63 C314.69,509.69 309.69,506.32 306.88,505.00 C304.07,503.69 302.19,502.28 299.38,502.75 C296.56,503.22 293.13,504.94 290.00,507.82 C286.88,510.69 283.13,515.78 280.63,520.00 C278.13,524.22 276.25,528.44 275.00,533.13 C273.75,537.82 272.50,544.69 273.13,548.13 C273.75,551.57 274.69,551.32 278.75,553.76 C282.81,556.19 291.25,560.63 297.50,562.76 C303.75,564.88 310.00,566.26 316.25,566.51 C322.50,566.76 328.75,565.13 335.00,564.26 C341.26,563.38 347.51,562.38 353.76,561.26 C360.01,560.13 366.26,559.63 372.51,557.51 C378.76,555.38 386.26,551.01 391.26,548.51 C396.26,546.01 398.45,544.13 402.51,542.51 C406.57,540.88 413.45,539.38 415.63,538.75"/>
<path d="M332.19,509.13 C332.97,509.75 335.47,511.69 336.88,512.88 C338.29,514.07 339.07,515.75 340.63,516.25 C342.19,516.75 344.54,516.19 346.26,515.88 C347.97,515.57 350.16,514.63 350.94,514.38"/>
<path d="M322.82,495.63 L322.82,517.19 L332.19,517.19 L332.19,494.69"/>
<path d="M332.19,494.88 A4.69,2.06 0.0 1,1 322.82,494.88 A4.69,2.06 0.0 1,1 332.19,494.88 Z"/>
<path d="M334.63,482.13 A3.75,1.50 0.0 1,1 327.13,482.13 A3.75,1.50 0.0 1,1 334.63,482.13 Z"/>
<path d="M327.13,482.50 L326.57,493.38"/>
<path d="M334.63,482.50 L333.69,493.75"/>
<path d="M350.94,514.38 C351.57,511.57 353.29,501.57 354.69,497.50 C356.10,493.44 357.66,491.41 359.38,490.00 C361.10,488.60 363.44,488.28 365.01,489.06 C366.57,489.85 367.66,491.72 368.76,494.69 C369.85,497.66 370.94,503.44 371.57,506.88 C372.19,510.32 372.35,513.91 372.51,515.32"/>
<path d="M362.19,490.38 C362.73,491.41 364.44,493.81 365.38,496.56 C366.32,499.31 367.26,502.97 367.82,506.88 C368.38,510.78 368.60,517.82 368.76,520.00"/>
<path d="M361.82,498.81 A2.44,3.19 0.0 1,1 356.94,498.81 A2.44,3.19 0.0 1,1 361.82,498.81 Z"/>
<path d="M361.82,505.38 A2.44,2.06 0.0 1,1 356.94,505.38 A2.44,2.06 0.0 1,1 361.82,505.38 Z"/>
<path d="M382.82,499.75 L382.82,511.94 L389.01,511.00 L389.01,499.75"/>
<path d="M389.20,499.00 A3.19,1.50 0.0 1,1 382.82,499.00 A3.19,1.50 0.0 1,1 389.20,499.00 Z"/>
<path d="M372.51,514.75 C373.44,513.44 376.41,508.66 378.13,506.88 C379.85,505.10 382.04,504.53 382.82,504.07"/>
<path d="M389.38,497.50 C390.63,495.63 393.76,488.91 396.88,486.25 C400.01,483.60 404.38,482.13 408.13,481.56 C411.88,481.00 415.95,481.53 419.38,482.88 C422.82,484.22 426.26,486.56 428.76,489.63 C431.26,492.69 433.29,497.44 434.39,501.25 C435.48,505.07 435.79,508.60 435.32,512.50 C434.85,516.41 432.20,522.66 431.57,524.69"/>
<path d="M391.26,496.56 C393.13,495.16 398.76,489.85 402.51,488.13 C406.26,486.41 410.32,485.78 413.76,486.25 C417.20,486.72 420.32,488.44 423.14,490.94 C425.95,493.44 429.14,497.03 430.64,501.25 C432.14,505.47 432.29,512.50 432.14,516.25 C431.98,520.00 430.10,522.50 429.70,523.75"/>
<path d="M395.01,495.63 C396.88,495.00 402.82,491.88 406.26,491.88 C409.70,491.88 412.82,493.44 415.63,495.63 C418.45,497.81 421.26,501.57 423.14,505.00 C425.01,508.44 426.57,513.13 426.89,516.25 C427.20,519.38 425.32,522.50 425.01,523.75"/>
<path d="M387.51,501.63 C389.38,500.53 395.01,495.91 398.76,495.06 C402.51,494.22 406.88,494.91 410.01,496.56 C413.13,498.22 415.70,501.72 417.51,505.00 C419.32,508.28 420.26,513.44 420.89,516.25 C421.51,519.07 421.20,520.94 421.26,521.88"/>
<path d="M391.26,506.88 C392.35,508.13 396.41,511.25 397.82,514.38 C399.23,517.50 399.38,523.75 399.70,525.63"/>
<path d="M425.39,526.57 A5.06,4.50 0.0 1,1 415.26,526.57 A5.06,4.50 0.0 1,1 425.39,526.57 Z"/>
<path d="M410.01,531.63 L415.63,538.75"/>
<path d="M415.26,527.88 L434.39,534.63"/>
<path d="M415.63,537.25 L431.01,545.88"/>
<path d="M438.51,540.26 A4.13,5.63 0.0 1,1 430.26,540.26 A4.13,5.63 0.0 1,1 438.51,540.26 Z"/>
<path d="M483.62,505.69 A7.50,10.50 20.0 1,1 469.53,500.56 A7.50,10.50 20.0 1,1 483.62,505.69 Z"/>
<path d="M482.80,505.80 A5.63,8.44 20.0 1,1 472.23,501.95 A5.63,8.44 20.0 1,1 482.80,505.80 Z"/>
<path d="M460.64,488.13 C459.95,489.69 456.82,494.69 456.51,497.50 C456.20,500.32 457.14,502.82 458.76,505.00 C460.39,507.19 463.76,509.22 466.26,510.63 C468.76,512.03 472.51,512.97 473.76,513.44"/>
<path d="M460.64,488.13 C462.20,487.81 466.89,485.47 470.01,486.25 C473.14,487.03 477.83,491.72 479.39,492.81"/>
<path d="M460.64,476.88 L470.01,483.44"/>
<path d="M477.51,474.06 L468.51,484.38"/>
<path d="M435.32,516.25 C436.89,514.85 442.36,509.00 444.70,507.82 C447.04,506.63 447.67,508.91 449.39,509.13 C451.11,509.35 453.76,509.35 455.01,509.13 C456.26,508.91 456.57,508.03 456.89,507.82"/>
<path d="M298.44,517.19 L303.13,513.44 L307.82,516.25 L303.13,520.94 Z"/>
<path d="M303.13,520.94 L305.00,523.75"/>
<!-- r_m4.txt -->
<path d="M531.88,386.88 C533.13,387.03 535.31,386.25 539.38,387.81 C543.44,389.38 550.32,393.28 556.25,396.25 C562.19,399.22 568.75,402.50 575.00,405.63 C581.26,408.75 589.07,412.75 593.76,415.00 C598.44,417.25 601.57,418.44 603.13,419.13"/>
<path d="M603.13,419.13 L606.88,422.88 L614.76,436.00"/>
<path d="M524.75,392.50 L528.13,431.88 L530.38,439.75 L531.88,463.76 L535.63,471.26 L552.50,480.63 L571.25,488.13 L586.26,492.82"/>
<path d="M518.75,391.00 L518.75,413.50"/>
<path d="M518.75,403.75 L526.25,398.13"/>
<path d="M570.69,408.44 A7.88,5.25 0.0 1,1 554.94,408.44 A7.88,5.25 0.0 1,1 570.69,408.44 Z"/>
<path d="M532.81,410.32 L537.50,407.50 L545.00,408.44 L549.13,414.07 L549.13,421.57 L545.00,425.32 L538.44,425.88 L533.38,423.44 Z"/>
<path d="M546.14,416.51 A5.06,7.50 -15.0 1,1 536.36,419.13 A5.06,7.50 -15.0 1,1 546.14,416.51 Z"/>
<path d="M517.81,441.25 L517.81,456.26 L531.88,463.76"/>
<path d="M506.56,437.50 C506.56,439.07 505.78,444.79 506.56,446.88 C507.34,448.97 509.53,449.75 511.25,450.07 C512.97,450.38 515.78,450.22 516.88,448.75 C517.97,447.29 517.66,442.50 517.81,441.25"/>
<path class="d" d="M510.69,450.63 L510.69,490.01"/>
<path d="M503.75,435.63 C505.00,436.25 508.75,438.44 511.25,439.38 C513.75,440.32 515.63,441.41 518.75,441.25 C521.88,441.10 528.13,438.91 530.00,438.44"/>
<path d="M585.32,434.69 L595.63,431.50 L602.19,433.75 L602.19,439.75 L596.57,455.51 L588.13,453.63 L585.32,445.00 Z"/>
<path d="M595.63,435.63 L600.32,434.13 L602.19,436.57 L602.19,442.19 L599.38,445.00 L595.26,444.07 Z"/>
<path d="M612.51,436.57 L678.14,450.63"/>
<path d="M678.14,451.01 L740.02,445.94"/>
<path class="d" d="M616.63,435.63 L620.38,469.38"/>
<path class="d" d="M635.01,472.19 L736.26,459.07"/>
<path d="M623.38,472.19 L634.07,470.69 L634.63,474.63 L623.76,475.94 Z"/>
<path d="M580.63,461.88 L580.63,490.01"/>
<path d="M580.63,461.88 C581.88,463.76 584.69,470.48 588.13,473.13 C591.57,475.79 595.63,476.88 601.26,477.82 C606.88,478.76 618.44,478.60 621.88,478.76"/>
<path d="M579.69,460.01 C580.16,459.38 581.35,457.32 582.51,456.26 C583.66,455.19 585.94,454.07 586.63,453.63"/>
<path d="M603.13,478.76 L601.26,490.01"/>
<path d="M606.88,478.76 L608.76,490.01"/>
<path d="M620.01,479.69 L605.01,490.01"/>
<path d="M725.01,475.94 L740.02,478.76"/>
<path d="M500.00,385.00 L518.75,392.50"/>
<!-- r_m5.txt -->
<path d="M677.51,450.94 C680.63,450.63 688.76,449.60 696.26,449.06 C703.76,448.53 713.13,448.22 722.51,447.75 C731.88,447.28 745.95,446.19 752.51,446.25 C759.07,446.31 758.45,447.03 761.89,448.13 C765.32,449.22 771.26,452.03 773.14,452.81"/>
<path d="M677.51,450.94 C680.63,451.56 690.63,452.81 696.26,454.69 C701.88,456.56 706.57,458.91 711.26,462.19 C715.95,465.47 720.32,470.16 724.38,474.38 C728.45,478.60 732.82,484.07 735.63,487.50 C738.45,490.94 740.32,493.75 741.26,495.00"/>
<path d="M604.38,479.07 L670.01,492.19"/>
<path d="M670.01,492.19 C672.51,493.29 680.63,496.72 685.01,498.75 C689.38,500.79 693.76,501.88 696.26,504.38 C698.76,506.88 699.07,507.82 700.01,513.76 C700.95,519.69 701.57,535.63 701.88,540.01"/>
<path class="d" d="M735.63,459.38 L711.26,462.19"/>
<path class="d" d="M791.89,452.81 L820.02,448.13"/>
<path d="M751.01,458.44 A5.06,3.75 0.0 1,1 740.89,458.44 A5.06,3.75 0.0 1,1 751.01,458.44 Z"/>
<path d="M748.39,458.44 A2.44,1.88 0.0 1,1 743.51,458.44 A2.44,1.88 0.0 1,1 748.39,458.44 Z"/>
<path d="M741.07,459.00 C741.04,460.63 740.70,465.57 740.89,468.75 C741.07,471.94 741.98,476.57 742.20,478.13"/>
<path d="M751.01,459.00 C750.95,460.63 750.85,466.19 750.64,468.75 C750.42,471.32 749.85,473.44 749.70,474.38"/>
<path d="M772.20,458.44 A6.00,4.13 0.0 1,1 760.20,458.44 A6.00,4.13 0.0 1,1 772.20,458.44 Z"/>
<path d="M769.01,458.44 A2.81,1.88 0.0 1,1 763.39,458.44 A2.81,1.88 0.0 1,1 769.01,458.44 Z"/>
<path d="M760.39,459.00 C760.39,460.63 760.14,465.88 760.39,468.75 C760.64,471.63 761.01,473.44 761.89,476.25 C762.76,479.07 765.01,484.07 765.64,485.63"/>
<path d="M772.20,459.00 L771.26,468.75"/>
<path d="M784.76,450.00 A6.00,3.75 0.0 1,1 772.76,450.00 A6.00,3.75 0.0 1,1 784.76,450.00 Z"/>
<path d="M781.58,450.00 A2.81,1.69 0.0 1,1 775.95,450.00 A2.81,1.69 0.0 1,1 781.58,450.00 Z"/>
<path d="M772.76,450.38 L773.14,465.00"/>
<path d="M784.76,450.38 L784.76,469.69"/>
<path d="M744.26,499.69 A5.25,3.75 0.0 1,1 733.76,499.69 A5.25,3.75 0.0 1,1 744.26,499.69 Z"/>
<path d="M741.64,499.69 A2.63,1.69 0.0 1,1 736.38,499.69 A2.63,1.69 0.0 1,1 741.64,499.69 Z"/>
<path d="M733.76,500.26 L733.76,513.76"/>
<path d="M744.26,500.26 L744.64,517.51"/>
<path d="M779.89,524.07 A6.75,5.25 0.0 1,1 766.39,524.07 A6.75,5.25 0.0 1,1 779.89,524.07 Z"/>
<path d="M776.32,524.07 A3.19,2.25 0.0 1,1 769.95,524.07 A3.19,2.25 0.0 1,1 776.32,524.07 Z"/>
<path d="M766.39,525.01 C766.26,526.26 765.14,530.48 765.64,532.51 C766.14,534.54 767.51,536.32 769.39,537.19 C771.26,538.07 775.14,538.54 776.89,537.76 C778.64,536.98 779.39,534.63 779.89,532.51 C780.39,530.38 779.89,526.26 779.89,525.01"/>
<path d="M765.07,537.76 A4.13,2.25 0.0 1,1 756.82,537.76 A4.13,2.25 0.0 1,1 765.07,537.76 Z"/>
<path d="M726.26,476.25 C728.76,476.57 737.20,476.88 741.26,478.13 C745.32,479.38 748.29,480.94 750.64,483.75 C752.98,486.57 754.23,490.94 755.32,495.00 C756.42,499.07 756.89,505.94 757.20,508.13"/>
<path d="M737.51,487.50 L754.39,492.19"/>
<path d="M773.14,465.00 L786.26,470.63"/>
<path d="M744.26,502.51 L754.39,501.57"/>
<path d="M750.64,508.13 L771.26,508.13"/>
<path d="M745.01,506.26 L752.51,525.01"/>
<path d="M765.64,511.88 A1.88,1.88 0.0 1,1 761.89,511.88 A1.88,1.88 0.0 1,1 765.64,511.88 Z"/>
<path d="M787.76,480.00 A1.50,2.25 0.0 1,1 784.76,480.00 A1.50,2.25 0.0 1,1 787.76,480.00 Z"/>
<path d="M715.01,540.01 C715.16,536.26 714.38,522.19 715.95,517.51 C717.51,512.82 721.10,512.51 724.38,511.88 C727.67,511.26 732.51,512.82 735.63,513.76 C738.76,514.69 741.89,516.88 743.14,517.51"/>
<path d="M735.63,525.01 L739.38,521.26 L742.20,524.07 L741.26,532.51 L737.51,534.38 L735.63,530.63 Z"/>
<path d="M740.32,526.88 A1.50,2.25 0.0 1,1 737.32,526.88 A1.50,2.25 0.0 1,1 740.32,526.88 Z"/>
<path d="M615.25,490.32 L615.25,500.63 L619.38,502.51 L624.07,500.63 L624.63,492.19"/>
<path d="M580.00,487.50 C581.56,488.44 586.25,492.35 589.38,493.13 C592.50,493.91 595.31,492.82 598.75,492.19 C602.19,491.57 608.13,489.85 610.00,489.38"/>
<path d="M754.39,513.76 L765.64,508.13 L771.26,508.13"/>
<path d="M754.39,528.76 L767.51,517.51"/>
<!-- r_m6.txt -->
<path d="M791.26,469.58 L805.87,457.62 L809.86,455.89 L813.84,458.29 L813.84,462.27 L799.89,473.56 L795.24,474.89 L791.92,472.90 Z"/>
<path d="M811.89,456.84 A2.66,2.26 -40.0 1,1 807.82,460.26 A2.66,2.26 -40.0 1,1 811.89,456.84 Z"/>
<path d="M808.79,454.57 C808.79,452.66 811.27,453.06 812.78,453.24 C814.29,453.41 816.54,454.57 817.83,455.63 C819.11,456.69 820.09,458.29 820.48,459.61 C820.88,460.94 820.99,462.60 820.22,463.60 C819.44,464.60 817.07,465.42 815.83,465.59 C814.60,465.77 813.95,466.50 812.78,464.66 C811.61,462.82 808.79,456.47 808.79,454.57 Z"/>
<path d="M796.57,466.26 L799.89,469.58 L799.89,473.56"/>
<path d="M798.56,464.93 L801.89,468.25"/>
<path d="M783.29,479.54 C783.73,478.77 784.84,475.73 785.94,474.89 C787.05,474.05 789.04,473.94 789.93,474.49 C790.81,475.05 791.26,476.04 791.26,478.21 C791.26,480.38 790.81,483.75 789.93,487.51 C789.04,491.28 787.05,497.92 785.94,500.80 C784.84,503.68 783.84,505.23 783.29,504.78 C782.73,504.34 782.62,500.80 782.62,498.14 C782.62,495.48 783.17,491.94 783.29,488.84 C783.40,485.74 783.29,481.09 783.29,479.54"/>
<path d="M787.78,480.41 A1.20,1.86 10.0 1,1 785.43,480.00 A1.20,1.86 10.0 1,1 787.78,480.41 Z"/>
<path d="M784.61,500.80 L791.92,486.19"/>
<path d="M791.92,474.89 C792.14,476.11 792.70,479.87 793.25,482.20 C793.80,484.52 794.47,486.85 795.24,488.84 C796.02,490.83 797.12,493.49 797.90,494.16 C798.67,494.82 799.56,493.05 799.89,492.83"/>
<path d="M800.56,473.56 C800.78,474.56 801.44,477.66 801.89,479.54 C802.33,481.42 803.21,483.31 803.21,484.86 C803.21,486.41 802.28,487.29 801.89,488.84 C801.49,490.39 801.00,493.27 800.82,494.16"/>
<path d="M799.89,471.57 C801.33,470.73 806.20,466.74 808.53,466.52 C810.85,466.30 812.07,468.29 813.84,470.24 C815.61,472.19 817.83,475.56 819.16,478.21 C820.48,480.87 821.33,483.42 821.81,486.19 C822.30,488.95 822.03,493.38 822.08,494.82"/>
<path d="M809.86,466.52 C810.74,467.81 813.62,471.62 815.17,474.23 C816.72,476.84 818.23,479.54 819.16,482.20 C820.09,484.86 820.48,488.84 820.75,490.17"/>
<path d="M803.21,484.86 L809.86,484.86"/>
<path d="M808.53,487.51 C809.19,487.07 811.36,485.03 812.51,484.86 C813.67,484.68 814.88,485.57 815.44,486.45 C815.99,487.34 816.10,489.11 815.83,490.17 C815.57,491.23 814.84,492.38 813.84,492.83 C812.85,493.27 810.52,492.83 809.86,492.83"/>
<path d="M820.48,469.58 C821.81,469.69 825.80,469.58 828.46,470.24 C831.11,470.91 833.66,472.35 836.43,473.56 C839.20,474.78 843.62,476.89 845.06,477.55"/>
<path d="M822.08,495.48 C823.14,495.97 826.51,497.52 828.46,498.41 C830.40,499.29 831.89,500.13 833.77,500.80 C835.65,501.46 838.75,502.13 839.75,502.39"/>
<path d="M847.32,490.75 A5.98,13.02 12.0 1,1 835.63,488.26 A5.98,13.02 12.0 1,1 847.32,490.75 Z"/>
<path d="M843.88,491.07 A5.58,12.49 12.0 1,1 832.96,488.74 A5.58,12.49 12.0 1,1 843.88,491.07 Z"/>
<path d="M838.44,491.88 A5.05,11.69 12.0 1,1 828.57,489.79 A5.05,11.69 12.0 1,1 838.44,491.88 Z"/>
<path d="M830.98,471.57 A2.92,1.86 0.0 1,1 825.13,471.57 A2.92,1.86 0.0 1,1 830.98,471.57 Z"/>
<path d="M825.13,471.57 L825.13,476.22"/>
<path d="M830.98,471.57 L830.98,476.22"/>
<path d="M825.13,476.22 C825.62,476.44 827.08,477.55 828.06,477.55 C829.03,477.55 830.49,476.44 830.98,476.22"/>
<path d="M845.06,483.53 L853.70,475.82 L863.00,480.87 L864.59,484.86 L864.99,496.15 L860.34,498.81 L853.70,499.74 L846.39,497.48 Z"/>
<path d="M845.06,483.53 L853.70,487.78 L863.00,483.53"/>
<path d="M853.70,487.78 L853.70,499.74"/>
<path d="M857.95,486.19 L857.95,497.88"/>
<path d="M861.67,484.86 L861.67,497.08"/>
<path d="M787.94,514.08 C788.49,513.42 789.15,511.21 791.26,510.10 C793.36,508.99 797.86,508.55 800.56,507.44 C803.26,506.33 806.31,504.12 807.47,503.46"/>
<path d="M787.27,517.41 C787.94,517.78 789.04,519.73 791.26,519.66 C793.47,519.60 797.86,517.94 800.56,517.01 C803.26,516.08 806.31,514.57 807.47,514.08"/>
<path d="M807.47,502.39 L812.78,503.72 L820.75,509.04 L823.14,514.35 L822.48,519.66 L816.50,523.65 L810.12,520.99 L808.13,513.02 Z"/>
<path d="M815.70,518.07 A1.86,2.52 0.0 1,1 811.98,518.07 A1.86,2.52 0.0 1,1 815.70,518.07 Z"/>
<path d="M807.20,500.80 L807.20,530.03"/>
<path d="M800.56,524.71 L808.53,530.03"/>
<path d="M789.93,503.46 C791.04,503.01 794.58,501.68 796.57,500.80 C798.56,499.91 800.11,499.03 801.89,498.14 C803.66,497.26 806.31,495.93 807.20,495.48"/>
<!-- r_m7.txt -->
<path d="M689.38,500.00 C690.94,500.94 696.72,502.50 698.75,505.63 C700.78,508.75 700.94,512.50 701.56,518.75 C702.19,525.00 702.35,539.06 702.50,543.13"/>
<path d="M715.63,518.75 C716.41,517.81 718.44,514.31 720.32,513.13 C722.19,511.94 724.53,511.47 726.88,511.63 C729.22,511.78 731.88,512.88 734.38,514.06 C736.88,515.25 740.63,517.97 741.88,518.75"/>
<path d="M715.63,518.75 L713.75,560.00"/>
<path d="M741.88,518.75 L744.13,533.75"/>
<path d="M735.32,526.25 C735.78,525.47 736.97,522.13 738.13,521.56 C739.28,521.00 741.16,520.85 742.25,522.88 C743.35,524.91 744.75,529.44 744.69,533.75 C744.63,538.06 743.60,545.57 741.88,548.75 C740.16,551.94 735.63,552.19 734.38,552.88"/>
<path d="M740.35,526.58 A1.88,3.38 10.0 1,1 736.66,525.93 A1.88,3.38 10.0 1,1 740.35,526.58 Z"/>
<path d="M734.38,530.00 L733.44,561.88"/>
<path d="M780.32,524.38 A6.56,4.69 0.0 1,1 767.19,524.38 A6.56,4.69 0.0 1,1 780.32,524.38 Z"/>
<path d="M777.13,524.38 A3.38,2.25 0.0 1,1 770.38,524.38 A3.38,2.25 0.0 1,1 777.13,524.38 Z"/>
<path d="M767.19,525.31 C767.35,526.10 767.04,528.91 768.13,530.00 C769.22,531.10 771.72,531.88 773.76,531.88 C775.79,531.88 779.22,531.25 780.32,530.00 C781.41,528.75 780.32,525.31 780.32,524.38"/>
<path d="M766.82,539.38 A5.25,4.69 0.0 1,1 756.32,539.38 A5.25,4.69 0.0 1,1 766.82,539.38 Z"/>
<path d="M764.19,539.38 A2.63,2.25 0.0 1,1 758.94,539.38 A2.63,2.25 0.0 1,1 764.19,539.38 Z"/>
<path d="M775.63,537.50 C776.57,536.88 779.07,534.22 781.26,533.75 C783.44,533.28 786.57,533.44 788.76,534.69 C790.94,535.94 793.60,538.91 794.38,541.25 C795.16,543.60 794.69,546.88 793.44,548.75 C792.19,550.63 789.54,552.19 786.88,552.50 C784.23,552.82 779.54,552.19 777.51,550.63 C775.47,549.07 775.01,545.32 774.69,543.13 C774.38,540.94 775.47,538.44 775.63,537.50"/>
<path d="M790.63,543.50 A2.81,2.81 0.0 1,1 785.01,543.50 A2.81,2.81 0.0 1,1 790.63,543.50 Z"/>
<path d="M811.26,539.75 A5.25,5.63 0.0 1,1 800.76,539.75 A5.25,5.63 0.0 1,1 811.26,539.75 Z"/>
<path d="M781.26,531.88 C783.13,531.72 788.76,531.25 792.51,530.94 C796.26,530.63 800.63,529.69 803.76,530.00 C806.88,530.31 809.45,531.25 811.26,532.81 C813.07,534.38 814.07,537.03 814.63,539.38 C815.20,541.72 815.20,544.38 814.63,546.88 C814.07,549.38 813.70,552.13 811.26,554.38 C808.82,556.63 803.76,559.44 800.01,560.38 C796.26,561.32 792.51,560.94 788.76,560.00 C785.01,559.07 779.38,555.63 777.51,554.75"/>
<path d="M809.38,505.63 L815.38,500.38 L822.51,509.00 L823.45,516.88 L818.76,522.50 L811.26,520.63 L807.88,515.00 Z"/>
<path d="M815.76,518.38 A2.25,1.88 0.0 1,1 811.26,518.38 A2.25,1.88 0.0 1,1 815.76,518.38 Z"/>
<path d="M796.85,569.34 A2.63,4.69 20.0 1,1 791.92,567.54 A2.63,4.69 20.0 1,1 796.85,569.34 Z"/>
<path d="M774.35,591.84 A2.63,4.69 20.0 1,1 769.41,590.05 A2.63,4.69 20.0 1,1 774.35,591.84 Z"/>
<path d="M768.13,562.82 L786.88,572.19"/>
<path d="M758.75,571.25 L773.76,582.51"/>
<path d="M786.88,572.19 L773.76,584.38"/>
<path d="M758.75,556.25 C760.16,557.13 765.07,559.94 767.19,561.50 C769.32,563.07 771.10,564.00 771.51,565.63 C771.91,567.25 770.82,569.94 769.63,571.25 C768.44,572.57 766.19,573.50 764.38,573.50 C762.57,573.50 759.69,571.63 758.75,571.25"/>
<path d="M768.69,565.25 A3.38,3.38 0.0 1,1 761.94,565.25 A3.38,3.38 0.0 1,1 768.69,565.25 Z"/>
<path d="M760.63,546.88 L760.63,558.13"/>
<path d="M788.76,560.00 L792.51,563.75"/>
<path d="M801.88,560.00 L811.26,554.38"/>
<path class="bold" d="M752.57,522.50 L753.50,530.94"/>
<path d="M743.75,500.00 L744.69,513.13"/>
<path d="M734.38,500.00 L734.38,511.25"/>
<path d="M781.26,501.88 L785.01,500.00"/>
<path d="M786.88,511.25 C787.82,512.19 790.01,515.63 792.51,516.88 C795.01,518.13 799.38,519.06 801.88,518.75 C804.38,518.44 806.57,515.63 807.51,515.00"/>
<path d="M786.88,518.75 C788.44,519.38 793.13,522.19 796.26,522.50 C799.38,522.81 804.07,520.94 805.63,520.63"/>
<!-- r_m8.txt -->
<path d="M696.88,545.00 C697.19,544.69 697.71,543.44 698.75,543.12 C699.79,542.81 701.67,542.60 703.12,543.12 C704.58,543.65 705.94,544.90 707.50,546.25 C709.06,547.60 710.83,549.90 712.50,551.25 C714.17,552.60 715.42,553.33 717.50,554.38 C719.58,555.42 722.50,556.56 725.00,557.50 C727.50,558.44 730.42,559.58 732.50,560.00 C734.58,560.42 735.42,560.42 737.50,560.00 C739.58,559.58 742.50,558.54 745.00,557.50 C747.50,556.46 750.17,555.04 752.50,553.75 C754.83,552.46 757.92,550.42 759.00,549.75"/>
<path d="M697.50,551.50 C698.33,551.71 700.62,552.12 702.50,552.75 C704.38,553.38 706.67,554.25 708.75,555.25 C710.83,556.25 712.92,557.71 715.00,558.75 C717.08,559.79 719.17,560.67 721.25,561.50 C723.33,562.33 725.62,563.17 727.50,563.75 C729.38,564.33 730.83,564.88 732.50,565.00 C734.17,565.12 735.42,565.00 737.50,564.50 C739.58,564.00 742.29,563.12 745.00,562.00 C747.71,560.88 751.33,558.92 753.75,557.75 C756.17,556.58 758.54,555.46 759.50,555.00"/>
<path d="M698.75,558.75 C699.79,559.00 702.92,559.50 705.00,560.25 C707.08,561.00 709.17,562.21 711.25,563.25 C713.33,564.29 715.21,565.38 717.50,566.50 C719.79,567.62 722.50,569.00 725.00,570.00 C727.50,571.00 730.21,572.08 732.50,572.50 C734.79,572.92 736.46,572.92 738.75,572.50 C741.04,572.08 743.54,571.04 746.25,570.00 C748.96,568.96 752.67,567.29 755.00,566.25 C757.33,565.21 759.38,564.17 760.25,563.75"/>
<path d="M700.62,565.62 C701.98,565.90 706.15,566.48 708.75,567.25 C711.35,568.02 713.75,569.17 716.25,570.25 C718.75,571.33 721.04,572.75 723.75,573.75 C726.46,574.75 730.00,575.79 732.50,576.25 C735.00,576.71 736.25,576.88 738.75,576.50 C741.25,576.12 744.54,575.08 747.50,574.00 C750.46,572.92 755.00,570.67 756.50,570.00"/>
<path d="M696.88,545.00 L696.88,556.25 L698.75,558.75 L698.75,566.25 L700.62,570.00 L702.25,576.25"/>
<path d="M705.00,546.25 A2.75,2.25 0.0 1,1 699.50,546.25 A2.75,2.25 0.0 1,1 705.00,546.25 Z"/>
<path d="M703.50,546.25 A1.25,1.00 0.0 1,1 701.00,546.25 A1.25,1.00 0.0 1,1 703.50,546.25 Z"/>
<path d="M710.62,563.25 A4.38,3.12 0.0 1,1 701.88,563.25 A4.38,3.12 0.0 1,1 710.62,563.25 Z"/>
<path d="M708.50,563.25 A2.25,1.50 0.0 1,1 704.00,563.25 A2.25,1.50 0.0 1,1 708.50,563.25 Z"/>
<path d="M735.25,565.75 A2.75,1.88 0.0 1,1 729.75,565.75 A2.75,1.88 0.0 1,1 735.25,565.75 Z"/>
<path d="M733.75,565.75 A1.25,0.88 0.0 1,1 731.25,565.75 A1.25,0.88 0.0 1,1 733.75,565.75 Z"/>
<path d="M713.75,540.00 L713.75,553.75"/>
<path d="M734.00,540.00 L732.75,560.00"/>
<path d="M737.75,540.00 L736.50,560.00"/>
<path d="M737.50,565.00 L737.75,581.25"/>
<path d="M760.00,547.50 L760.00,563.75"/>
<path d="M696.25,581.25 C695.83,582.08 694.38,584.58 693.75,586.25 C693.12,587.92 692.29,589.38 692.50,591.25 C692.71,593.12 693.75,595.83 695.00,597.50 C696.25,599.17 698.33,600.21 700.00,601.25 C701.67,602.29 702.71,603.08 705.00,603.75 C707.29,604.42 712.29,605.00 713.75,605.25"/>
<path d="M696.25,581.25 C697.08,580.83 699.38,579.38 701.25,578.75 C703.12,578.12 705.21,577.08 707.50,577.50 C709.79,577.92 712.71,579.75 715.00,581.25 C717.29,582.75 720.21,585.62 721.25,586.50"/>
<path d="M700.00,600.25 C699.90,600.88 699.33,602.75 699.38,604.00 C699.42,605.25 699.48,606.75 700.25,607.75 C701.02,608.75 702.38,609.50 704.00,610.00 C705.62,610.50 707.96,610.54 710.00,610.75 C712.04,610.96 715.21,611.17 716.25,611.25"/>
<path d="M700.62,601.50 C701.35,601.79 703.19,603.04 705.00,603.25 C706.81,603.46 710.42,602.83 711.50,602.75"/>
<path d="M715.62,590.25 L722.50,586.50 L735.00,590.25 L735.00,610.00 L729.38,612.00 L717.50,610.25 L715.00,602.75 Z"/>
<path d="M715.62,590.25 L721.25,594.00 L735.00,590.25"/>
<path d="M721.25,594.00 L721.25,611.50"/>
<path d="M717.75,592.50 L717.75,610.25"/>
<path d="M731.50,592.50 L731.50,611.50"/>
<path d="M735.00,610.25 C736.25,610.25 740.00,610.46 742.50,610.25 C745.00,610.04 747.50,609.83 750.00,609.00 C752.50,608.17 755.42,606.92 757.50,605.25 C759.58,603.58 761.04,601.08 762.50,599.00 C763.96,596.92 765.62,594.83 766.25,592.75 C766.88,590.67 766.62,588.58 766.25,586.50 C765.88,584.42 765.42,581.92 764.00,580.25 C762.58,578.58 760.04,577.54 757.75,576.50 C755.46,575.46 751.50,574.42 750.25,574.00"/>
<path d="M735.00,610.25 C735.62,610.56 736.46,611.92 738.75,612.12 C741.04,612.33 747.08,611.60 748.75,611.50"/>
<path d="M762.00,590.00 A5.50,5.50 0.0 1,1 751.00,590.00 A5.50,5.50 0.0 1,1 762.00,590.00 Z"/>
<path d="M760.00,555.25 C761.25,555.46 765.42,555.46 767.50,556.50 C769.58,557.54 771.56,559.46 772.50,561.50 C773.44,563.54 773.71,566.88 773.12,568.75 C772.54,570.62 770.73,571.71 769.00,572.75 C767.27,573.79 764.83,574.79 762.75,575.00 C760.67,575.21 757.54,574.17 756.50,574.00"/>
<path d="M768.38,565.62 A3.00,3.00 0.0 1,1 762.38,565.62 A3.00,3.00 0.0 1,1 768.38,565.62 Z"/>
<path d="M755.00,574.00 L773.75,583.75"/>
<g class="t"><path transform="translate(907.50,106.50) scale(0.910,0.945)" d="M10.9,0 H0 V13.75 M0,7 H6"/>
<path transform="translate(921.50,106.50) scale(0.910,0.945)" d="M0,0 H6 M3,0 V13.75 M0,13.75 H6"/>
<path transform="translate(931.50,106.50) scale(0.910,0.945)" d="M10.5,0 H1.8 L0,1.8 V12 L1.8,13.75 H10.5 V6.8 H6.5"/>
<path transform="translate(945.50,106.50) scale(0.910,0.945)" d="M0.5,11 V13.75"/>
<path transform="translate(950.50,106.50) scale(0.910,0.945)" d="M1.9,0 H6.1 L8,2.8 V11 L6.1,13.75 H1.9 L0,11 V2.8 Z"/>
<path transform="translate(962.50,106.50) scale(0.910,0.945)" d="M0,0 H8.8 L1.8,13.75"/>
<path transform="translate(976.50,106.50) scale(0.910,0.945)" d="M0,2.2 L2.4,0 H9.4 L11.8,2.4 V5 L9.6,7 H2.6 L0,9.2 V13.75 H11.8"/>
<path transform="translate(991.50,106.50) scale(0.910,0.945)" d="M0,7 H10.9"/>
<path transform="translate(1006.50,106.50) scale(0.910,0.945)" d="M0,3 L2.9,0 V13.75 M0,13.75 H6"/>
<path transform="translate(509.50,197.50) scale(0.910,0.945)" d="M10.9,0 H0 V13.75 M0,7 H6"/>
<path transform="translate(524.50,197.50) scale(0.910,0.945)" d="M10.9,7.2 H2.5 L0,5.3 V2.2 L2.5,0 H7.8 L10.9,3.1 V9 L5.3,13.75 H3.1"/>
<path transform="translate(539.50,197.50) scale(0.910,0.945)" d="M0,2.5 L3.2,0 H8.8 L10.9,2.1 V4 L8.8,6 H3.2 M8.8,6 L10.9,8.1 V10.6 L7.7,13.75 H3.2 L0,10.6"/>
<path transform="translate(554.50,197.50) scale(0.910,0.945)" d="M7.6,0 H5.3 L0.4,3.3 V10.6 L3.4,13.75 H6.8 L10.2,10.6 V8 L8.4,6.2 H0.4"/>
<path transform="translate(568.50,197.50) scale(0.910,0.945)" d="M1.9,0 H6.1 L8,2.8 V11 L6.1,13.75 H1.9 L0,11 V2.8 Z"/>
<path transform="translate(580.50,197.50) scale(0.910,0.945)" d="M0,3 L2.9,0 V13.75 M0,13.75 H6"/>
<path transform="translate(646.50,236.50) scale(0.910,0.945)" d="M10.9,0 H0 V13.75 M0,7 H6"/>
<path transform="translate(660.50,236.50) scale(0.910,0.945)" d="M10.9,7.2 H2.5 L0,5.3 V2.2 L2.5,0 H7.8 L10.9,3.1 V9 L5.3,13.75 H3.1"/>
<path transform="translate(674.50,236.50) scale(0.910,0.945)" d="M0,2.5 L3.2,0 H8.8 L10.9,2.1 V4 L8.8,6 H3.2 M8.8,6 L10.9,8.1 V10.6 L7.7,13.75 H3.2 L0,10.6"/>
<path transform="translate(690.50,236.50) scale(0.910,0.945)" d="M7.6,0 H5.3 L0.4,3.3 V10.6 L3.4,13.75 H6.8 L10.2,10.6 V8 L8.4,6.2 H0.4"/>
<path transform="translate(704.50,236.50) scale(0.910,0.945)" d="M1.9,0 H6.1 L8,2.8 V11 L6.1,13.75 H1.9 L0,11 V2.8 Z"/>
<path transform="translate(716.50,236.50) scale(0.910,0.945)" d="M0,3 L2.9,0 V13.75 M0,13.75 H6"/>
<path transform="translate(868.50,314.50) scale(0.910,0.945)" d="M10.9,0 H0 V13.75 M0,7 H6"/>
<path transform="translate(882.50,314.50) scale(0.910,0.945)" d="M10.9,7.2 H2.5 L0,5.3 V2.2 L2.5,0 H7.8 L10.9,3.1 V9 L5.3,13.75 H3.1"/>
<path transform="translate(896.50,314.50) scale(0.910,0.945)" d="M0,2.5 L3.2,0 H8.8 L10.9,2.1 V4 L8.8,6 H3.2 M8.8,6 L10.9,8.1 V10.6 L7.7,13.75 H3.2 L0,10.6"/>
<path transform="translate(912.50,314.50) scale(0.910,0.945)" d="M7.6,0 H5.3 L0.4,3.3 V10.6 L3.4,13.75 H6.8 L10.2,10.6 V8 L8.4,6.2 H0.4"/>
<path transform="translate(926.50,314.50) scale(0.910,0.945)" d="M1.9,0 H6.1 L8,2.8 V11 L6.1,13.75 H1.9 L0,11 V2.8 Z"/>
<path transform="translate(938.50,314.50) scale(0.910,0.945)" d="M0,3 L2.9,0 V13.75 M0,13.75 H6"/>
<path transform="translate(856.50,270.50) scale(0.910,0.945)" d="M1.9,0 H6.1 L8,2.8 V11 L6.1,13.75 H1.9 L0,11 V2.8 Z"/>
<path transform="translate(868.50,270.50) scale(0.910,0.945)" d="M0,3 L2.9,0 V13.75 M0,13.75 H6"/>
<path transform="translate(877.50,270.50) scale(0.910,0.945)" d="M1.9,0 H6.1 L8,2.8 V11 L6.1,13.75 H1.9 L0,11 V2.8 Z"/>
<path transform="translate(889.50,270.50) scale(0.910,0.945)" d="M8.2,13.75 V0 L0,8.2 H10.6"/>
<path transform="translate(905.50,270.50) scale(0.910,0.945)" d="M10.1,1.9 L7.9,0 H2.25 L0,1.9 V2.25 L10.1,10.9 V11.5 L7.9,13.75 H2.6 L0,10.9"/>
<path transform="translate(918.50,270.50) scale(0.910,0.945)" d="M5.6,1.9 V11.6 M0.4,1.9 L11,11.6 M11,1.9 L0.4,11.6"/>
<path transform="translate(933.50,270.50) scale(0.910,0.945)" d="M10.9,0 H0 V13.75 M0,7 H6"/>
<path transform="translate(580.50,336.50) scale(0.910,0.945)" d="M0,3 L2.9,0 V13.75 M0,13.75 H6"/>
<path transform="translate(590.50,336.50) scale(0.910,0.945)" d="M0,13.75 V8.3 L3.9,0 H4.5 L9,8.8 V13.75 M0,9.4 H9"/>
<path transform="translate(605.50,336.50) scale(0.910,0.945)" d="M0,0 H8 L10,2.2 V5 L8,7 H1.4 M8,7 L10,9.2 V11.6 L8,13.75 H0 M1.4,0 V13.75"/>
<path transform="translate(619.50,336.50) scale(0.910,0.945)" d="M10.9,7.2 H2.5 L0,5.3 V2.2 L2.5,0 H7.8 L10.9,3.1 V9 L5.3,13.75 H3.1"/>
<path transform="translate(634.50,336.50) scale(0.910,0.945)" d="M1.9,0 H6.1 L8,2.8 V11 L6.1,13.75 H1.9 L0,11 V2.8 Z"/>
<path transform="translate(646.50,336.50) scale(0.910,0.945)" d="M0,3 L2.9,0 V13.75 M0,13.75 H6"/>
<path transform="translate(719.50,386.50) scale(0.910,0.945)" d="M0,3 L2.9,0 V13.75 M0,13.75 H6"/>
<path transform="translate(728.50,386.50) scale(0.910,0.945)" d="M8.2,13.75 V0 L0,8.2 H10.6"/>
<path transform="translate(743.50,386.50) scale(0.910,0.945)" d="M8.2,13.75 V0 L0,8.2 H10.6"/>
<path transform="translate(758.50,386.50) scale(0.910,0.945)" d="M7.6,0 H5.3 L0.4,3.3 V10.6 L3.4,13.75 H6.8 L10.2,10.6 V8 L8.4,6.2 H0.4"/>
<path transform="translate(773.50,386.50) scale(0.910,0.945)" d="M10.5,0 H0.3 V4.4 H8.2 L10.5,6.5 V11.2 L8,13.75 H2.5 L0.3,11"/>
<path transform="translate(984.50,364.50) scale(0.910,0.945)" d="M0,3 L2.9,0 V13.75 M0,13.75 H6"/>
<path transform="translate(994.50,364.50) scale(0.910,0.945)" d="M0,13.75 V8.3 L3.9,0 H4.5 L9,8.8 V13.75 M0,9.4 H9"/>
<path transform="translate(1008.50,364.50) scale(0.910,0.945)" d="M0,0 H8 L10,2.2 V5 L8,7 H1.4 M8,7 L10,9.2 V11.6 L8,13.75 H0 M1.4,0 V13.75"/>
<path transform="translate(1023.50,364.50) scale(0.910,0.945)" d="M10.9,7.2 H2.5 L0,5.3 V2.2 L2.5,0 H7.8 L10.9,3.1 V9 L5.3,13.75 H3.1"/>
<path transform="translate(1037.50,364.50) scale(0.910,0.945)" d="M0,3 L2.9,0 V13.75 M0,13.75 H6"/>
<path transform="translate(1122.50,352.50) scale(0.910,0.945)" d="M0,3 L2.9,0 V13.75 M0,13.75 H6"/>
<path transform="translate(1133.50,352.50) scale(0.910,0.945)" d="M0,13.75 V8.3 L3.9,0 H4.5 L9,8.8 V13.75 M0,9.4 H9"/>
<path transform="translate(1147.50,352.50) scale(0.910,0.945)" d="M0,0 H8 L10,2.2 V5 L8,7 H1.4 M8,7 L10,9.2 V11.6 L8,13.75 H0 M1.4,0 V13.75"/>
<path transform="translate(1162.50,352.50) scale(0.910,0.945)" d="M0,3 L2.9,0 V13.75 M0,13.75 H6"/>
<path transform="translate(1171.50,352.50) scale(0.910,0.945)" d="M8.2,13.75 V0 L0,8.2 H10.6"/>
<path transform="translate(410.50,247.50) scale(0.910,0.945)" d="M10.9,0 H0 V13.75 M0,7 H6"/>
<path transform="translate(424.50,247.50) scale(0.910,0.945)" d="M0,0 H6 M3,0 V13.75 M0,13.75 H6"/>
<path transform="translate(434.50,247.50) scale(0.910,0.945)" d="M10.5,0 H1.8 L0,1.8 V12 L1.8,13.75 H10.5 V6.8 H6.5"/>
<path transform="translate(447.50,247.50) scale(0.910,0.945)" d="M0.5,11 V13.75"/>
<path transform="translate(454.50,247.50) scale(0.910,0.945)" d="M1.9,0 H6.1 L8,2.8 V11 L6.1,13.75 H1.9 L0,11 V2.8 Z"/>
<path transform="translate(466.50,247.50) scale(0.910,0.945)" d="M10.5,0 H0.3 V4.4 H8.2 L10.5,6.5 V11.2 L8,13.75 H2.5 L0.3,11"/>
<path transform="translate(481.50,247.50) scale(0.910,0.945)" d="M1.9,0 H6.1 L8,2.8 V11 L6.1,13.75 H1.9 L0,11 V2.8 Z"/>
<path transform="translate(1147.50,625.50) scale(0.910,0.945)" d="M0,13.75 V8.3 L3.9,0 H4.5 L9,8.8 V13.75 M0,9.4 H9"/>
<path transform="translate(1161.50,625.50) scale(0.910,0.945)" d="M1.9,0 H6.1 L8,2.8 V11 L6.1,13.75 H1.9 L0,11 V2.8 Z"/>
<path transform="translate(1173.50,625.50) scale(0.910,0.945)" d="M10.5,0 H0.3 V4.4 H8.2 L10.5,6.5 V11.2 L8,13.75 H2.5 L0.3,11"/>
<path transform="translate(1187.50,625.50) scale(0.910,0.945)" d="M1.9,0 H6.1 L8,2.8 V11 L6.1,13.75 H1.9 L0,11 V2.8 Z"/>
<path transform="translate(1200.50,625.50) scale(0.910,0.945)" d="M1.9,0 H6.1 L8,2.8 V11 L6.1,13.75 H1.9 L0,11 V2.8 Z"/>
<path transform="translate(1212.50,625.50) scale(0.910,0.945)" d="M1.9,0 H6.1 L8,2.8 V11 L6.1,13.75 H1.9 L0,11 V2.8 Z"/>
<path transform="translate(1224.50,625.50) scale(0.910,0.945)" d="M0,3 L2.9,0 V13.75 M0,13.75 H6"/>
<path transform="translate(1234.50,625.50) scale(0.910,0.945)" d="M8.2,13.75 V0 L0,8.2 H10.6"/>
<path transform="translate(1249.50,625.50) scale(0.910,0.945)" d="M10.9,7.2 H2.5 L0,5.3 V2.2 L2.5,0 H7.8 L10.9,3.1 V9 L5.3,13.75 H3.1"/>
<path transform="translate(1263.50,625.50) scale(0.910,0.945)" d="M1.9,0 H6.1 L8,2.8 V11 L6.1,13.75 H1.9 L0,11 V2.8 Z"/>
<g transform="matrix(1,-0.563,0,1,201.5,452.3)"><path transform="translate(0,0)" d="M0,14.5 V0 H9 M0,7.2 H5"/><path transform="translate(12,0)" d="M0,14.5 V0 H6.3 L8,1.7 V5.3 L6.3,7 H0.5 M1.7,7 L8,11.5"/><path transform="translate(25.8,0)" d="M0,0 H8.4 V14.5 H0 Z"/><path transform="translate(37.8,0)" d="M0,14.5 V0 L8.6,14.5 V0"/><path transform="translate(49.7,0)" d="M0,0 H9.4 M4.7,0 V14.5"/></g></g>
<rect x="770.5" y="154.5" width="27.0" height="28.0" style="fill:#fff;stroke:none"/><rect x="773.5" y="157.5" width="21.0" height="22.0" class="w"/><path class="b" transform="translate(779.00,161.90)" d="M0.5,0 H6.8 Q9.2,0 9.2,2.3 V4.2 Q9.2,6.3 7,6.3 H0.5 M7,6.3 Q9.6,6.3 9.6,8.8 V10.8 Q9.6,13 7.3,13 H0.5 M1,0 V13"/><path class="b2" transform="translate(779.00,161.90)" d="M1.2,0 V13"/>
<rect x="963.5" y="187.5" width="22.0" height="22.0" class="w"/><path class="b" transform="translate(967.70,191.30)" d="M-0.3,13 H1.6 M0.6,13 L6.3,0.3 H7.3 L13,13 M12,13 H13.9 M2.9,9.6 H10.7"/>
<rect x="987.5" y="303.5" width="21.0" height="23.0" class="w"/><path class="b" transform="translate(993.00,308.40)" d="M0.5,0 H6.8 Q9.2,0 9.2,2.3 V4.2 Q9.2,6.3 7,6.3 H0.5 M7,6.3 Q9.6,6.3 9.6,8.8 V10.8 Q9.6,13 7.3,13 H0.5 M1,0 V13"/><path class="b2" transform="translate(993.00,308.40)" d="M1.2,0 V13"/>
<rect x="820.5" y="391.5" width="22.0" height="23.0" class="w"/><path class="b" transform="translate(824.70,395.80)" d="M-0.3,13 H1.6 M0.6,13 L6.3,0.3 H7.3 L13,13 M12,13 H13.9 M2.9,9.6 H10.7"/>
<path class="arr" d="M196.4,455 L179.5,463.4 L180.2,450.8 L162,481 L180.2,490.9 L179.5,479.6 L196.4,469.8"/>
</svg>
</body></html>
